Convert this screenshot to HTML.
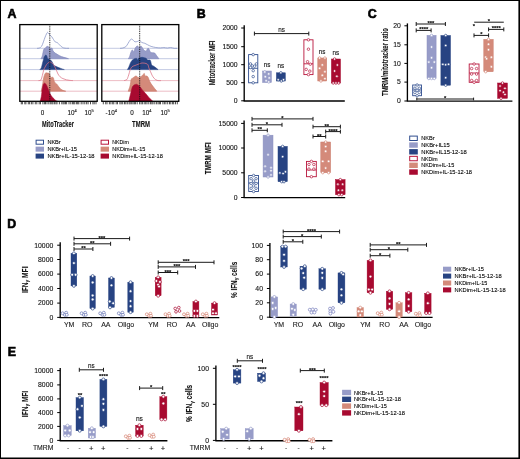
<!DOCTYPE html><html><head><meta charset="utf-8"><style>html,body{margin:0;padding:0;background:#fff;width:520px;height:459px;overflow:hidden;}svg{display:block;will-change:transform;}text{font-family:"Liberation Sans", sans-serif;stroke:#000;stroke-width:0.1px;paint-order:stroke;}</style></head><body>
<svg width="520" height="459" viewBox="0 0 520 459">
<rect x="0" y="0" width="520" height="459" fill="#fff" stroke="none" stroke-width="1" />
<text x="7.6" y="18.2" font-size="12.4" text-anchor="start" fill="#000" font-weight="bold" style="stroke-width:0.6px">A</text>
<text x="196.7" y="18.2" font-size="12.4" text-anchor="start" fill="#000" font-weight="bold" style="stroke-width:0.6px">B</text>
<text x="367.7" y="18.4" font-size="12.4" text-anchor="start" fill="#000" font-weight="bold" style="stroke-width:0.6px">C</text>
<text x="7.3" y="228.4" font-size="12.4" text-anchor="start" fill="#000" font-weight="bold" style="stroke-width:0.6px">D</text>
<text x="7.8" y="356.2" font-size="12.4" text-anchor="start" fill="#000" font-weight="bold" style="stroke-width:0.6px">E</text>
<rect x="19.8" y="24.6" width="77.4" height="76.69999999999999" fill="#fff" stroke="none" stroke-width="1" />
<line x1="19.8" y1="48.3" x2="97.2" y2="48.3" stroke="#bcc4e0" stroke-width="0.9" />
<line x1="19.8" y1="58.7" x2="97.2" y2="58.7" stroke="#bcc4e0" stroke-width="0.9" />
<line x1="19.8" y1="69.6" x2="97.2" y2="69.6" stroke="#bcc4e0" stroke-width="0.9" />
<line x1="19.8" y1="80.6" x2="97.2" y2="80.6" stroke="#ebb6be" stroke-width="0.9" />
<line x1="19.8" y1="91.2" x2="97.2" y2="91.2" stroke="#ebb6be" stroke-width="0.9" />
<path d="M37.00,48.30 C37.37,48.27 38.43,48.43 39.20,48.10 C39.97,47.77 40.90,47.33 41.60,46.30 C42.30,45.27 42.82,43.43 43.40,41.90 C43.98,40.37 44.58,38.43 45.10,37.10 C45.62,35.77 46.08,34.70 46.50,33.90 C46.92,33.10 47.25,32.35 47.60,32.30 C47.95,32.25 48.20,33.15 48.60,33.60 C49.00,34.05 49.48,34.48 50.00,35.00 C50.52,35.52 51.12,35.95 51.70,36.70 C52.28,37.45 52.92,38.63 53.50,39.50 C54.08,40.37 54.57,41.38 55.20,41.90 C55.83,42.42 56.65,42.18 57.30,42.60 C57.95,43.02 58.45,43.75 59.10,44.40 C59.75,45.05 60.45,45.92 61.20,46.50 C61.95,47.08 62.73,47.60 63.60,47.90 C64.47,48.20 65.50,48.23 66.40,48.30 C67.30,48.37 68.57,48.30 69.00,48.30" fill="none" stroke="#8593c4" stroke-width="0.75" stroke-linejoin="round"/>
<path d="M40.90,58.70 C41.13,58.23 41.83,57.42 42.30,55.90 C42.77,54.38 43.23,50.88 43.70,49.60 C44.17,48.32 44.57,48.72 45.10,48.20 C45.63,47.68 46.38,46.78 46.90,46.50 C47.42,46.22 47.80,46.33 48.20,46.50 C48.60,46.67 48.95,47.15 49.30,47.50 C49.65,47.85 49.83,48.48 50.30,48.60 C50.77,48.72 51.63,47.80 52.10,48.20 C52.57,48.60 52.58,50.18 53.10,51.00 C53.62,51.82 54.38,52.47 55.20,53.10 C56.02,53.73 56.95,54.22 58.00,54.80 C59.05,55.38 60.33,56.13 61.50,56.60 C62.67,57.07 63.83,57.25 65.00,57.60 C66.17,57.95 67.92,58.52 68.50,58.70 Z" fill="#979cc8" stroke="#7d85bb" stroke-width="0.6" stroke-linejoin="round"/>
<path d="M39.90,69.60 C40.13,69.28 40.90,68.65 41.30,67.70 C41.70,66.75 41.95,65.23 42.30,63.90 C42.65,62.57 43.05,60.93 43.40,59.70 C43.75,58.47 44.00,57.27 44.40,56.50 C44.80,55.73 45.38,55.15 45.80,55.10 C46.22,55.05 46.60,55.62 46.90,56.20 C47.20,56.78 47.32,58.13 47.60,58.60 C47.88,59.07 48.20,58.82 48.60,59.00 C49.00,59.18 49.53,59.42 50.00,59.70 C50.47,59.98 50.93,60.12 51.40,60.70 C51.87,61.28 52.33,62.38 52.80,63.20 C53.27,64.02 53.68,65.08 54.20,65.60 C54.72,66.12 55.27,66.02 55.90,66.30 C56.53,66.58 57.18,66.95 58.00,67.30 C58.82,67.65 59.75,68.02 60.80,68.40 C61.85,68.78 63.72,69.40 64.30,69.60 Z" fill="#274382" stroke="#274382" stroke-width="0.5" stroke-linejoin="round"/>
<path d="M38.50,80.60 C38.90,80.48 40.27,80.72 40.90,79.90 C41.53,79.08 41.83,77.33 42.30,75.70 C42.77,74.07 43.23,71.55 43.70,70.10 C44.17,68.65 44.63,67.92 45.10,67.00 C45.57,66.08 45.98,65.30 46.50,64.60 C47.02,63.90 47.62,63.22 48.20,62.80 C48.78,62.38 49.42,62.10 50.00,62.10 C50.58,62.10 51.12,62.38 51.70,62.80 C52.28,63.22 52.92,63.78 53.50,64.60 C54.08,65.42 54.68,66.67 55.20,67.70 C55.72,68.73 56.13,69.75 56.60,70.80 C57.07,71.85 57.42,73.00 58.00,74.00 C58.58,75.00 59.28,76.03 60.10,76.80 C60.92,77.57 61.85,78.10 62.90,78.60 C63.95,79.10 65.23,79.50 66.40,79.80 C67.57,80.10 68.80,80.27 69.90,80.40 C71.00,80.53 72.48,80.57 73.00,80.60" fill="none" stroke="#dc7386" stroke-width="0.75" stroke-linejoin="round"/>
<path d="M41.30,91.20 C41.53,89.98 42.30,86.15 42.70,83.90 C43.10,81.65 43.35,79.32 43.70,77.70 C44.05,76.08 44.45,75.00 44.80,74.20 C45.15,73.40 45.40,73.08 45.80,72.90 C46.20,72.72 46.73,73.07 47.20,73.10 C47.67,73.13 48.13,72.75 48.60,73.10 C49.07,73.45 49.65,74.38 50.00,75.20 C50.35,76.02 50.42,77.65 50.70,78.00 C50.98,78.35 51.27,77.35 51.70,77.30 C52.13,77.25 52.88,77.05 53.30,77.70 C53.72,78.35 53.88,80.33 54.20,81.20 C54.52,82.07 54.80,82.45 55.20,82.90 C55.60,83.35 56.02,83.27 56.60,83.90 C57.18,84.53 58.00,85.82 58.70,86.70 C59.40,87.58 59.98,88.55 60.80,89.20 C61.62,89.85 62.78,90.27 63.60,90.60 C64.42,90.93 65.35,91.10 65.70,91.20 Z" fill="#d48a7a" stroke="#c87767" stroke-width="0.6" stroke-linejoin="round"/>
<path d="M40.20,101.20 C40.38,100.42 40.95,98.57 41.30,96.50 C41.65,94.43 41.95,90.85 42.30,88.80 C42.65,86.75 42.98,85.13 43.40,84.20 C43.82,83.27 44.33,83.13 44.80,83.20 C45.27,83.27 45.73,83.90 46.20,84.60 C46.67,85.30 47.13,86.35 47.60,87.40 C48.07,88.45 48.55,89.78 49.00,90.90 C49.45,92.02 49.78,93.12 50.30,94.10 C50.82,95.08 51.52,96.05 52.10,96.80 C52.68,97.55 53.17,97.95 53.80,98.60 C54.43,99.25 55.32,100.27 55.90,100.70 C56.48,101.13 57.07,101.12 57.30,101.20 Z" fill="#a80a30" stroke="#a80a30" stroke-width="0.5" stroke-linejoin="round"/>
<line x1="49.8" y1="25.8" x2="49.8" y2="101.3" stroke="#111" stroke-width="1.0" stroke-dasharray="0.9 0.9"/>
<rect x="19.8" y="24.6" width="77.4" height="76.69999999999999" fill="none" stroke="#000" stroke-width="1.3" />
<g stroke="#222" stroke-width="0.6">
<line x1="21.3" y1="101.89999999999999" x2="21.3" y2="104.3" stroke="#222" stroke-width="0.8" />
<line x1="22.4" y1="101.89999999999999" x2="22.4" y2="104.3" stroke="#222" stroke-width="0.8" />
<line x1="24.8" y1="101.89999999999999" x2="24.8" y2="104.3" stroke="#222" stroke-width="0.8" />
<line x1="25.9" y1="101.89999999999999" x2="25.9" y2="104.3" stroke="#222" stroke-width="0.8" />
<line x1="28.3" y1="101.89999999999999" x2="28.3" y2="104.3" stroke="#222" stroke-width="0.8" />
<line x1="29.6" y1="101.89999999999999" x2="29.6" y2="104.3" stroke="#222" stroke-width="0.8" />
<line x1="31.4" y1="101.89999999999999" x2="31.4" y2="104.3" stroke="#222" stroke-width="0.8" />
<line x1="32.9" y1="101.89999999999999" x2="32.9" y2="104.3" stroke="#222" stroke-width="0.8" />
<line x1="35.3" y1="101.89999999999999" x2="35.3" y2="104.3" stroke="#222" stroke-width="0.8" />
<line x1="36.8" y1="101.89999999999999" x2="36.8" y2="104.3" stroke="#222" stroke-width="0.8" />
<line x1="39.2" y1="101.89999999999999" x2="39.2" y2="104.3" stroke="#222" stroke-width="0.8" />
<line x1="40.5" y1="101.89999999999999" x2="40.5" y2="104.3" stroke="#222" stroke-width="0.8" />
<line x1="42.9" y1="101.89999999999999" x2="42.9" y2="104.3" stroke="#222" stroke-width="0.8" />
<line x1="44.4" y1="101.89999999999999" x2="44.4" y2="104.3" stroke="#222" stroke-width="0.8" />
<line x1="45.5" y1="101.89999999999999" x2="45.5" y2="104.3" stroke="#222" stroke-width="0.8" />
<line x1="47.0" y1="101.89999999999999" x2="47.0" y2="104.3" stroke="#222" stroke-width="0.8" />
<line x1="48.8" y1="101.89999999999999" x2="48.8" y2="104.3" stroke="#222" stroke-width="0.8" />
<line x1="50.3" y1="101.89999999999999" x2="50.3" y2="104.3" stroke="#222" stroke-width="0.8" />
<line x1="51.8" y1="101.89999999999999" x2="51.8" y2="104.3" stroke="#222" stroke-width="0.8" />
<line x1="52.9" y1="101.89999999999999" x2="52.9" y2="104.3" stroke="#222" stroke-width="0.8" />
<line x1="54.4" y1="101.89999999999999" x2="54.4" y2="104.3" stroke="#222" stroke-width="0.8" />
<line x1="55.9" y1="101.89999999999999" x2="55.9" y2="104.3" stroke="#222" stroke-width="0.8" />
<line x1="57.0" y1="101.89999999999999" x2="57.0" y2="104.3" stroke="#222" stroke-width="0.8" />
<line x1="59.4" y1="101.89999999999999" x2="59.4" y2="104.3" stroke="#222" stroke-width="0.8" />
<line x1="61.8" y1="101.89999999999999" x2="61.8" y2="104.3" stroke="#222" stroke-width="0.8" />
<line x1="63.1" y1="101.89999999999999" x2="63.1" y2="104.3" stroke="#222" stroke-width="0.8" />
<line x1="64.2" y1="101.89999999999999" x2="64.2" y2="104.3" stroke="#222" stroke-width="0.8" />
<line x1="65.5" y1="101.89999999999999" x2="65.5" y2="104.3" stroke="#222" stroke-width="0.8" />
<line x1="66.6" y1="101.89999999999999" x2="66.6" y2="104.3" stroke="#222" stroke-width="0.8" />
<line x1="69.0" y1="101.89999999999999" x2="69.0" y2="104.3" stroke="#222" stroke-width="0.8" />
<line x1="70.8" y1="101.89999999999999" x2="70.8" y2="104.3" stroke="#222" stroke-width="0.8" />
<line x1="72.6" y1="101.89999999999999" x2="72.6" y2="104.3" stroke="#222" stroke-width="0.8" />
<line x1="73.7" y1="101.89999999999999" x2="73.7" y2="104.3" stroke="#222" stroke-width="0.8" />
<line x1="74.8" y1="101.89999999999999" x2="74.8" y2="104.3" stroke="#222" stroke-width="0.8" />
<line x1="76.6" y1="101.89999999999999" x2="76.6" y2="104.3" stroke="#222" stroke-width="0.8" />
<line x1="77.7" y1="101.89999999999999" x2="77.7" y2="104.3" stroke="#222" stroke-width="0.8" />
<line x1="78.8" y1="101.89999999999999" x2="78.8" y2="104.3" stroke="#222" stroke-width="0.8" />
<line x1="81.2" y1="101.89999999999999" x2="81.2" y2="104.3" stroke="#222" stroke-width="0.8" />
<line x1="83.0" y1="101.89999999999999" x2="83.0" y2="104.3" stroke="#222" stroke-width="0.8" />
<line x1="84.8" y1="101.89999999999999" x2="84.8" y2="104.3" stroke="#222" stroke-width="0.8" />
<line x1="86.6" y1="101.89999999999999" x2="86.6" y2="104.3" stroke="#222" stroke-width="0.8" />
<line x1="88.1" y1="101.89999999999999" x2="88.1" y2="104.3" stroke="#222" stroke-width="0.8" />
<line x1="90.5" y1="101.89999999999999" x2="90.5" y2="104.3" stroke="#222" stroke-width="0.8" />
<line x1="92.9" y1="101.89999999999999" x2="92.9" y2="104.3" stroke="#222" stroke-width="0.8" />
<line x1="94.2" y1="101.89999999999999" x2="94.2" y2="104.3" stroke="#222" stroke-width="0.8" />
<line x1="96.0" y1="101.89999999999999" x2="96.0" y2="104.3" stroke="#222" stroke-width="0.8" />
</g>
<rect x="101.8" y="24.6" width="77.00000000000001" height="76.69999999999999" fill="#fff" stroke="none" stroke-width="1" />
<line x1="101.8" y1="48.3" x2="178.8" y2="48.3" stroke="#bcc4e0" stroke-width="0.9" />
<line x1="101.8" y1="58.7" x2="178.8" y2="58.7" stroke="#bcc4e0" stroke-width="0.9" />
<line x1="101.8" y1="69.6" x2="178.8" y2="69.6" stroke="#bcc4e0" stroke-width="0.9" />
<line x1="101.8" y1="80.6" x2="178.8" y2="80.6" stroke="#ebb6be" stroke-width="0.9" />
<line x1="101.8" y1="91.2" x2="178.8" y2="91.2" stroke="#ebb6be" stroke-width="0.9" />
<path d="M120.00,48.30 C120.38,48.27 121.33,48.37 122.30,48.10 C123.27,47.83 124.83,47.50 125.80,46.70 C126.77,45.90 127.38,44.40 128.10,43.30 C128.82,42.20 129.48,40.82 130.10,40.10 C130.72,39.38 131.27,38.95 131.80,39.00 C132.33,39.05 132.77,39.93 133.30,40.40 C133.83,40.87 134.33,41.62 135.00,41.80 C135.67,41.98 136.53,41.70 137.30,41.50 C138.07,41.30 138.83,40.43 139.60,40.60 C140.37,40.77 141.03,42.05 141.90,42.50 C142.77,42.95 143.83,42.92 144.80,43.30 C145.77,43.68 146.65,44.28 147.70,44.80 C148.75,45.32 149.75,45.95 151.10,46.40 C152.45,46.85 154.25,47.25 155.80,47.50 C157.35,47.75 159.07,47.90 160.40,47.90 C161.73,47.90 162.65,47.48 163.80,47.50 C164.95,47.52 166.15,48.00 167.30,48.00 C168.45,48.00 169.55,47.45 170.70,47.50 C171.85,47.55 173.15,48.17 174.20,48.30 C175.25,48.43 176.53,48.30 177.00,48.30" fill="none" stroke="#8593c4" stroke-width="0.75" stroke-linejoin="round"/>
<path d="M128.20,58.70 C128.42,58.42 129.07,58.03 129.50,57.00 C129.93,55.97 130.33,53.68 130.80,52.50 C131.27,51.32 131.80,50.03 132.30,49.90 C132.80,49.77 133.35,51.93 133.80,51.70 C134.25,51.47 134.63,49.30 135.00,48.50 C135.37,47.70 135.55,47.32 136.00,46.90 C136.45,46.48 137.20,45.92 137.70,46.00 C138.20,46.08 138.62,47.30 139.00,47.40 C139.38,47.50 139.63,46.80 140.00,46.60 C140.37,46.40 140.78,45.97 141.20,46.20 C141.62,46.43 142.07,47.37 142.50,48.00 C142.93,48.63 143.22,49.47 143.80,50.00 C144.38,50.53 145.47,51.28 146.00,51.20 C146.53,51.12 146.65,50.00 147.00,49.50 C147.35,49.00 147.73,48.20 148.10,48.20 C148.47,48.20 148.83,48.85 149.20,49.50 C149.57,50.15 149.83,51.55 150.30,52.10 C150.77,52.65 151.28,52.65 152.00,52.80 C152.72,52.95 153.85,52.55 154.60,53.00 C155.35,53.45 155.78,54.55 156.50,55.50 C157.22,56.45 158.50,58.17 158.90,58.70 Z" fill="#979cc8" stroke="#7d85bb" stroke-width="0.6" stroke-linejoin="round"/>
<path d="M127.40,69.60 C127.67,69.08 128.50,67.62 129.00,66.50 C129.50,65.38 129.88,63.93 130.40,62.90 C130.92,61.87 131.58,60.90 132.10,60.30 C132.62,59.70 133.00,59.58 133.50,59.30 C134.00,59.02 134.62,58.78 135.10,58.60 C135.58,58.42 136.03,58.05 136.40,58.20 C136.77,58.35 136.93,59.50 137.30,59.50 C137.67,59.50 138.07,58.52 138.60,58.20 C139.13,57.88 139.85,57.75 140.50,57.60 C141.15,57.45 141.83,57.27 142.50,57.30 C143.17,57.33 143.92,57.65 144.50,57.80 C145.08,57.95 145.47,57.85 146.00,58.20 C146.53,58.55 146.98,59.55 147.70,59.90 C148.42,60.25 149.65,59.50 150.30,60.30 C150.95,61.10 151.15,63.78 151.60,64.70 C152.05,65.62 152.50,65.45 153.00,65.80 C153.50,66.15 154.02,66.38 154.60,66.80 C155.18,67.22 155.92,67.83 156.50,68.30 C157.08,68.77 157.83,69.38 158.10,69.60 Z" fill="#274382" stroke="#274382" stroke-width="0.5" stroke-linejoin="round"/>
<path d="M124.20,80.60 C124.65,80.42 126.30,80.02 126.90,79.50 C127.50,78.98 127.50,78.25 127.80,77.50 C128.10,76.75 128.33,76.18 128.70,75.00 C129.07,73.82 129.58,71.60 130.00,70.40 C130.42,69.20 130.70,68.50 131.20,67.80 C131.70,67.10 132.37,66.58 133.00,66.20 C133.63,65.82 134.17,65.82 135.00,65.50 C135.83,65.18 136.83,64.72 138.00,64.30 C139.17,63.88 140.67,63.13 142.00,63.00 C143.33,62.87 145.00,63.20 146.00,63.50 C147.00,63.80 147.53,64.08 148.00,64.80 C148.47,65.52 148.42,66.73 148.80,67.80 C149.18,68.87 149.77,69.98 150.30,71.20 C150.83,72.42 151.35,73.90 152.00,75.10 C152.65,76.30 153.33,77.52 154.20,78.40 C155.07,79.28 156.07,80.03 157.20,80.40 C158.33,80.77 160.37,80.57 161.00,80.60" fill="none" stroke="#dc7386" stroke-width="0.75" stroke-linejoin="round"/>
<path d="M128.20,91.20 C128.50,90.33 129.50,87.95 130.00,86.00 C130.50,84.05 130.78,80.80 131.20,79.50 C131.62,78.20 131.98,78.63 132.50,78.20 C133.02,77.77 133.72,77.27 134.30,76.90 C134.88,76.53 135.50,76.00 136.00,76.00 C136.50,76.00 136.80,76.62 137.30,76.90 C137.80,77.18 138.35,77.78 139.00,77.70 C139.65,77.62 140.55,76.83 141.20,76.40 C141.85,75.97 142.40,75.60 142.90,75.10 C143.40,74.60 143.83,73.25 144.20,73.40 C144.57,73.55 144.67,75.57 145.10,76.00 C145.53,76.43 146.30,75.78 146.80,76.00 C147.30,76.22 147.60,76.37 148.10,77.30 C148.60,78.23 149.15,80.30 149.80,81.60 C150.45,82.90 151.20,83.95 152.00,85.10 C152.80,86.25 153.80,87.48 154.60,88.50 C155.40,89.52 156.43,90.75 156.80,91.20 Z" fill="#d48a7a" stroke="#c87767" stroke-width="0.6" stroke-linejoin="round"/>
<path d="M128.80,101.20 C129.03,100.22 129.78,97.03 130.20,95.30 C130.62,93.57 130.95,92.18 131.30,90.80 C131.65,89.42 131.90,87.92 132.30,87.00 C132.70,86.08 133.23,85.70 133.70,85.30 C134.17,84.90 134.63,84.78 135.10,84.60 C135.57,84.42 136.03,84.15 136.50,84.20 C136.97,84.25 137.38,84.55 137.90,84.90 C138.42,85.25 139.03,85.72 139.60,86.30 C140.17,86.88 140.73,87.65 141.30,88.40 C141.87,89.15 142.42,90.12 143.00,90.80 C143.58,91.48 144.15,91.80 144.80,92.50 C145.45,93.20 146.22,94.18 146.90,95.00 C147.58,95.82 148.22,96.65 148.90,97.40 C149.58,98.15 150.37,98.87 151.00,99.50 C151.63,100.13 152.42,100.92 152.70,101.20 Z" fill="#a80a30" stroke="#a80a30" stroke-width="0.5" stroke-linejoin="round"/>
<line x1="139.7" y1="25.8" x2="139.7" y2="101.3" stroke="#111" stroke-width="1.0" stroke-dasharray="0.9 0.9"/>
<rect x="101.8" y="24.6" width="77.00000000000001" height="76.69999999999999" fill="none" stroke="#000" stroke-width="1.3" />
<g stroke="#222" stroke-width="0.6">
<line x1="103.3" y1="101.89999999999999" x2="103.3" y2="104.3" stroke="#222" stroke-width="0.8" />
<line x1="105.7" y1="101.89999999999999" x2="105.7" y2="104.3" stroke="#222" stroke-width="0.8" />
<line x1="107.0" y1="101.89999999999999" x2="107.0" y2="104.3" stroke="#222" stroke-width="0.8" />
<line x1="109.4" y1="101.89999999999999" x2="109.4" y2="104.3" stroke="#222" stroke-width="0.8" />
<line x1="110.9" y1="101.89999999999999" x2="110.9" y2="104.3" stroke="#222" stroke-width="0.8" />
<line x1="112.7" y1="101.89999999999999" x2="112.7" y2="104.3" stroke="#222" stroke-width="0.8" />
<line x1="113.8" y1="101.89999999999999" x2="113.8" y2="104.3" stroke="#222" stroke-width="0.8" />
<line x1="116.2" y1="101.89999999999999" x2="116.2" y2="104.3" stroke="#222" stroke-width="0.8" />
<line x1="117.5" y1="101.89999999999999" x2="117.5" y2="104.3" stroke="#222" stroke-width="0.8" />
<line x1="119.9" y1="101.89999999999999" x2="119.9" y2="104.3" stroke="#222" stroke-width="0.8" />
<line x1="121.2" y1="101.89999999999999" x2="121.2" y2="104.3" stroke="#222" stroke-width="0.8" />
<line x1="122.7" y1="101.89999999999999" x2="122.7" y2="104.3" stroke="#222" stroke-width="0.8" />
<line x1="124.5" y1="101.89999999999999" x2="124.5" y2="104.3" stroke="#222" stroke-width="0.8" />
<line x1="125.8" y1="101.89999999999999" x2="125.8" y2="104.3" stroke="#222" stroke-width="0.8" />
<line x1="127.3" y1="101.89999999999999" x2="127.3" y2="104.3" stroke="#222" stroke-width="0.8" />
<line x1="129.1" y1="101.89999999999999" x2="129.1" y2="104.3" stroke="#222" stroke-width="0.8" />
<line x1="130.2" y1="101.89999999999999" x2="130.2" y2="104.3" stroke="#222" stroke-width="0.8" />
<line x1="131.7" y1="101.89999999999999" x2="131.7" y2="104.3" stroke="#222" stroke-width="0.8" />
<line x1="133.0" y1="101.89999999999999" x2="133.0" y2="104.3" stroke="#222" stroke-width="0.8" />
<line x1="134.3" y1="101.89999999999999" x2="134.3" y2="104.3" stroke="#222" stroke-width="0.8" />
<line x1="135.4" y1="101.89999999999999" x2="135.4" y2="104.3" stroke="#222" stroke-width="0.8" />
<line x1="137.2" y1="101.89999999999999" x2="137.2" y2="104.3" stroke="#222" stroke-width="0.8" />
<line x1="139.6" y1="101.89999999999999" x2="139.6" y2="104.3" stroke="#222" stroke-width="0.8" />
<line x1="141.1" y1="101.89999999999999" x2="141.1" y2="104.3" stroke="#222" stroke-width="0.8" />
<line x1="142.4" y1="101.89999999999999" x2="142.4" y2="104.3" stroke="#222" stroke-width="0.8" />
<line x1="144.2" y1="101.89999999999999" x2="144.2" y2="104.3" stroke="#222" stroke-width="0.8" />
<line x1="145.7" y1="101.89999999999999" x2="145.7" y2="104.3" stroke="#222" stroke-width="0.8" />
<line x1="147.0" y1="101.89999999999999" x2="147.0" y2="104.3" stroke="#222" stroke-width="0.8" />
<line x1="148.8" y1="101.89999999999999" x2="148.8" y2="104.3" stroke="#222" stroke-width="0.8" />
<line x1="150.6" y1="101.89999999999999" x2="150.6" y2="104.3" stroke="#222" stroke-width="0.8" />
<line x1="151.9" y1="101.89999999999999" x2="151.9" y2="104.3" stroke="#222" stroke-width="0.8" />
<line x1="153.0" y1="101.89999999999999" x2="153.0" y2="104.3" stroke="#222" stroke-width="0.8" />
<line x1="154.8" y1="101.89999999999999" x2="154.8" y2="104.3" stroke="#222" stroke-width="0.8" />
<line x1="156.6" y1="101.89999999999999" x2="156.6" y2="104.3" stroke="#222" stroke-width="0.8" />
<line x1="158.1" y1="101.89999999999999" x2="158.1" y2="104.3" stroke="#222" stroke-width="0.8" />
<line x1="159.4" y1="101.89999999999999" x2="159.4" y2="104.3" stroke="#222" stroke-width="0.8" />
<line x1="160.5" y1="101.89999999999999" x2="160.5" y2="104.3" stroke="#222" stroke-width="0.8" />
<line x1="162.9" y1="101.89999999999999" x2="162.9" y2="104.3" stroke="#222" stroke-width="0.8" />
<line x1="164.4" y1="101.89999999999999" x2="164.4" y2="104.3" stroke="#222" stroke-width="0.8" />
<line x1="165.9" y1="101.89999999999999" x2="165.9" y2="104.3" stroke="#222" stroke-width="0.8" />
<line x1="167.7" y1="101.89999999999999" x2="167.7" y2="104.3" stroke="#222" stroke-width="0.8" />
<line x1="169.5" y1="101.89999999999999" x2="169.5" y2="104.3" stroke="#222" stroke-width="0.8" />
<line x1="170.8" y1="101.89999999999999" x2="170.8" y2="104.3" stroke="#222" stroke-width="0.8" />
<line x1="172.6" y1="101.89999999999999" x2="172.6" y2="104.3" stroke="#222" stroke-width="0.8" />
<line x1="173.7" y1="101.89999999999999" x2="173.7" y2="104.3" stroke="#222" stroke-width="0.8" />
<line x1="175.5" y1="101.89999999999999" x2="175.5" y2="104.3" stroke="#222" stroke-width="0.8" />
<line x1="177.3" y1="101.89999999999999" x2="177.3" y2="104.3" stroke="#222" stroke-width="0.8" />
</g>
<text x="42.5" y="114.6" font-size="6.3" text-anchor="middle" fill="#111" >0</text>
<text x="67.5" y="114.6" font-size="6.3" text-anchor="start" fill="#111" >10<tspan font-size="4" dy="-2.4">4</tspan></text>
<text x="84.5" y="114.6" font-size="6.3" text-anchor="start" fill="#111" >10<tspan font-size="4" dy="-2.4">5</tspan></text>
<text x="105.6" y="114.6" font-size="6.3" text-anchor="start" fill="#111" >-10<tspan font-size="4" dy="-2.4">4</tspan></text>
<text x="131.9" y="114.6" font-size="6.3" text-anchor="middle" fill="#111" >0</text>
<text x="142.2" y="114.6" font-size="6.3" text-anchor="start" fill="#111" >10<tspan font-size="4" dy="-2.4">4</tspan></text>
<text x="160.5" y="114.6" font-size="6.3" text-anchor="start" fill="#111" >10<tspan font-size="4" dy="-2.4">5</tspan></text>
<text x="42.0" y="127.0" font-size="8.2" text-anchor="start" fill="#111" font-weight="bold" textLength="31.9" lengthAdjust="spacingAndGlyphs" >MitoTracker</text>
<text x="132.1" y="127.0" font-size="8.2" text-anchor="start" fill="#111" font-weight="bold" textLength="17.9" lengthAdjust="spacingAndGlyphs" >TMRM</text>
<rect x="36.1" y="140.2" width="7.4" height="4.0" fill="#fff" stroke="#2f4d8e" stroke-width="1.0" />
<text x="47.4" y="144.32399999999998" font-size="5.9" text-anchor="start" fill="#000" textLength="13.3" lengthAdjust="spacingAndGlyphs" >NKBr</text>
<rect x="35.6" y="146.64999999999998" width="8.4" height="5.0" fill="#979cc8" stroke="none" stroke-width="1" />
<text x="47.4" y="151.27399999999997" font-size="5.9" text-anchor="start" fill="#000" textLength="29.5" lengthAdjust="spacingAndGlyphs" >NKBr+IL-15</text>
<rect x="35.6" y="153.6" width="8.4" height="5.0" fill="#274382" stroke="none" stroke-width="1" />
<text x="47.4" y="158.224" font-size="5.9" text-anchor="start" fill="#000" textLength="47.2" lengthAdjust="spacingAndGlyphs" >NKBr+IL-15-12-18</text>
<rect x="101.1" y="140.2" width="7.4" height="4.0" fill="#fff" stroke="#b8163c" stroke-width="1.0" />
<text x="112.3" y="144.32399999999998" font-size="5.9" text-anchor="start" fill="#000" textLength="16.5" lengthAdjust="spacingAndGlyphs" >NKDim</text>
<rect x="100.6" y="146.64999999999998" width="8.4" height="5.0" fill="#d48a7a" stroke="none" stroke-width="1" />
<text x="112.3" y="151.27399999999997" font-size="5.9" text-anchor="start" fill="#000" textLength="33.0" lengthAdjust="spacingAndGlyphs" >NKDim+IL-15</text>
<rect x="100.6" y="153.6" width="8.4" height="5.0" fill="#a80a30" stroke="none" stroke-width="1" />
<text x="112.3" y="158.224" font-size="5.9" text-anchor="start" fill="#000" textLength="50.5" lengthAdjust="spacingAndGlyphs" >NKDim+IL-15-12-18</text>
<line x1="244.2" y1="25.2" x2="244.2" y2="101.0" stroke="#000" stroke-width="1.35" />
<line x1="241.2" y1="28" x2="244.2" y2="28" stroke="#000" stroke-width="1.0" />
<text x="237.7" y="30.376" font-size="6.6" text-anchor="end" fill="#111" textLength="15.28" lengthAdjust="spacingAndGlyphs" >2000</text>
<line x1="241.2" y1="46.7" x2="244.2" y2="46.7" stroke="#000" stroke-width="1.0" />
<text x="237.7" y="49.076" font-size="6.6" text-anchor="end" fill="#111" textLength="15.28" lengthAdjust="spacingAndGlyphs" >1500</text>
<line x1="241.2" y1="64.7" x2="244.2" y2="64.7" stroke="#000" stroke-width="1.0" />
<text x="237.7" y="67.07600000000001" font-size="6.6" text-anchor="end" fill="#111" textLength="15.28" lengthAdjust="spacingAndGlyphs" >1000</text>
<line x1="241.2" y1="82.7" x2="244.2" y2="82.7" stroke="#000" stroke-width="1.0" />
<text x="237.7" y="85.07600000000001" font-size="6.6" text-anchor="end" fill="#111" textLength="11.46" lengthAdjust="spacingAndGlyphs" >500</text>
<line x1="241.2" y1="100.8" x2="244.2" y2="100.8" stroke="#000" stroke-width="1.0" />
<text x="237.7" y="103.176" font-size="6.6" text-anchor="end" fill="#111" textLength="3.82" lengthAdjust="spacingAndGlyphs" >0</text>
<line x1="243.6" y1="101.0" x2="344.8" y2="101.0" stroke="#000" stroke-width="1.4" />
<text x="215.2" y="62.9" font-size="8.2" text-anchor="middle" fill="#111" font-weight="bold" textLength="44.9" lengthAdjust="spacingAndGlyphs" transform="rotate(-90 215.2 62.9)" >Mitotracker MFI</text>
<line x1="254.4" y1="33.6" x2="308.8" y2="33.6" stroke="#1a1a1a" stroke-width="1.0" />
<line x1="254.4" y1="31.6" x2="254.4" y2="35.6" stroke="#1a1a1a" stroke-width="1.0" />
<line x1="308.8" y1="31.6" x2="308.8" y2="35.6" stroke="#1a1a1a" stroke-width="1.0" />
<text x="281.6" y="31.8" font-size="6.3" text-anchor="middle" fill="#111" >ns</text>
<rect x="248.6" y="54.6" width="9.200000000000017" height="28.199999999999996" fill="#fff" stroke="#2f4d8e" stroke-width="0.9" />
<line x1="248.6" y1="68.3" x2="257.8" y2="68.3" stroke="#2f4d8e" stroke-width="0.9" />
<circle cx="253.2" cy="54.6" r="1.25" fill="#fff" stroke="#2f4d8e" stroke-width="0.7"/>
<circle cx="250.44" cy="63.906" r="1.25" fill="#fff" stroke="#2f4d8e" stroke-width="0.7"/>
<circle cx="256.42" cy="63.906" r="1.25" fill="#fff" stroke="#2f4d8e" stroke-width="0.7"/>
<circle cx="252.27999999999997" cy="65.88" r="1.25" fill="#fff" stroke="#2f4d8e" stroke-width="0.7"/>
<circle cx="254.57999999999998" cy="66.162" r="1.25" fill="#fff" stroke="#2f4d8e" stroke-width="0.7"/>
<circle cx="250.44" cy="67.572" r="1.25" fill="#fff" stroke="#2f4d8e" stroke-width="0.7"/>
<circle cx="253.2" cy="70.67399999999999" r="1.25" fill="#fff" stroke="#2f4d8e" stroke-width="0.7"/>
<circle cx="253.2" cy="76.596" r="1.25" fill="#fff" stroke="#2f4d8e" stroke-width="0.7"/>
<circle cx="253.2" cy="82.8" r="1.25" fill="#fff" stroke="#2f4d8e" stroke-width="0.7"/>
<rect x="262.6" y="71.0" width="8.799999999999955" height="11.5" fill="#979cc8" stroke="#8a90c0" stroke-width="0.5" />
<circle cx="264.8" cy="71.92" r="1.25" fill="#fff" stroke="#979cc8" stroke-width="0.7"/>
<circle cx="268.76" cy="73.875" r="1.25" fill="#fff" stroke="#979cc8" stroke-width="0.7"/>
<circle cx="265.24" cy="76.75" r="1.25" fill="#fff" stroke="#979cc8" stroke-width="0.7"/>
<circle cx="269.2" cy="77.9" r="1.25" fill="#fff" stroke="#979cc8" stroke-width="0.7"/>
<circle cx="266.12" cy="80.775" r="1.25" fill="#fff" stroke="#979cc8" stroke-width="0.7"/>
<circle cx="268.76" cy="81.925" r="1.25" fill="#fff" stroke="#979cc8" stroke-width="0.7"/>
<rect x="276.4" y="72.8" width="8.900000000000034" height="8.200000000000003" fill="#274382" stroke="#274382" stroke-width="0.5" />
<circle cx="280.85" cy="72.8" r="1.25" fill="#fff" stroke="#274382" stroke-width="0.7"/>
<circle cx="278.18" cy="79.77" r="1.25" fill="#fff" stroke="#274382" stroke-width="0.7"/>
<circle cx="281.295" cy="81.0" r="1.25" fill="#fff" stroke="#274382" stroke-width="0.7"/>
<circle cx="283.52000000000004" cy="79.77" r="1.25" fill="#fff" stroke="#274382" stroke-width="0.7"/>
<rect x="303.9" y="39.8" width="9.100000000000023" height="34.8" fill="#fff" stroke="#b8163c" stroke-width="0.9" />
<line x1="303.9" y1="63.8" x2="313.0" y2="63.8" stroke="#b8163c" stroke-width="0.9" />
<circle cx="308.45" cy="39.8" r="1.25" fill="#fff" stroke="#b8163c" stroke-width="0.7"/>
<circle cx="308.45" cy="49.196" r="1.25" fill="#fff" stroke="#b8163c" stroke-width="0.7"/>
<circle cx="307.53999999999996" cy="61.724" r="1.25" fill="#fff" stroke="#b8163c" stroke-width="0.7"/>
<circle cx="310.27" cy="64.16" r="1.25" fill="#fff" stroke="#b8163c" stroke-width="0.7"/>
<circle cx="306.17499999999995" cy="69.38" r="1.25" fill="#fff" stroke="#b8163c" stroke-width="0.7"/>
<circle cx="309.815" cy="71.11999999999999" r="1.25" fill="#fff" stroke="#b8163c" stroke-width="0.7"/>
<circle cx="308.45" cy="74.6" r="1.25" fill="#fff" stroke="#b8163c" stroke-width="0.7"/>
<rect x="317.8" y="58.0" width="8.899999999999977" height="23.0" fill="#d48a7a" stroke="#c97a6a" stroke-width="0.5" />
<circle cx="319.58" cy="58.0" r="1.25" fill="#fff" stroke="#d48a7a" stroke-width="0.7"/>
<circle cx="324.92" cy="58.0" r="1.25" fill="#fff" stroke="#d48a7a" stroke-width="0.7"/>
<circle cx="322.25" cy="64.9" r="1.25" fill="#fff" stroke="#d48a7a" stroke-width="0.7"/>
<circle cx="319.58" cy="68.35" r="1.25" fill="#fff" stroke="#d48a7a" stroke-width="0.7"/>
<circle cx="324.92" cy="71.8" r="1.25" fill="#fff" stroke="#d48a7a" stroke-width="0.7"/>
<circle cx="322.25" cy="75.25" r="1.25" fill="#fff" stroke="#d48a7a" stroke-width="0.7"/>
<circle cx="324.92" cy="78.7" r="1.25" fill="#fff" stroke="#d48a7a" stroke-width="0.7"/>
<circle cx="320.915" cy="81.0" r="1.25" fill="#fff" stroke="#d48a7a" stroke-width="0.7"/>
<rect x="331.4" y="59.0" width="9.100000000000023" height="24.0" fill="#a80a30" stroke="#a80a30" stroke-width="0.5" />
<circle cx="334.585" cy="59.0" r="1.25" fill="#fff" stroke="#a80a30" stroke-width="0.7"/>
<circle cx="337.315" cy="65.0" r="1.25" fill="#fff" stroke="#a80a30" stroke-width="0.7"/>
<circle cx="334.585" cy="71.0" r="1.25" fill="#fff" stroke="#a80a30" stroke-width="0.7"/>
<circle cx="336.86" cy="76.28" r="1.25" fill="#fff" stroke="#a80a30" stroke-width="0.7"/>
<circle cx="333.21999999999997" cy="83.0" r="1.25" fill="#fff" stroke="#a80a30" stroke-width="0.7"/>
<circle cx="335.95" cy="83.0" r="1.25" fill="#fff" stroke="#a80a30" stroke-width="0.7"/>
<circle cx="338.68" cy="83.0" r="1.25" fill="#fff" stroke="#a80a30" stroke-width="0.7"/>
<text x="267" y="67.3" font-size="6.3" text-anchor="middle" fill="#111" >ns</text>
<text x="280.8" y="68.3" font-size="6.3" text-anchor="middle" fill="#111" >ns</text>
<text x="322.2" y="54.0" font-size="6.3" text-anchor="middle" fill="#111" >ns</text>
<text x="335.8" y="55.2" font-size="6.3" text-anchor="middle" fill="#111" >ns</text>
<line x1="244.1" y1="120.5" x2="244.1" y2="197.6" stroke="#000" stroke-width="1.35" />
<line x1="241.1" y1="123.4" x2="244.1" y2="123.4" stroke="#000" stroke-width="1.0" />
<text x="237.6" y="125.77600000000001" font-size="6.6" text-anchor="end" fill="#111" textLength="19.1" lengthAdjust="spacingAndGlyphs" >15000</text>
<line x1="241.1" y1="148.0" x2="244.1" y2="148.0" stroke="#000" stroke-width="1.0" />
<text x="237.6" y="150.376" font-size="6.6" text-anchor="end" fill="#111" textLength="19.1" lengthAdjust="spacingAndGlyphs" >10000</text>
<line x1="241.1" y1="172.8" x2="244.1" y2="172.8" stroke="#000" stroke-width="1.0" />
<text x="237.6" y="175.17600000000002" font-size="6.6" text-anchor="end" fill="#111" textLength="15.28" lengthAdjust="spacingAndGlyphs" >5000</text>
<line x1="241.1" y1="197.5" x2="244.1" y2="197.5" stroke="#000" stroke-width="1.0" />
<text x="237.6" y="199.876" font-size="6.6" text-anchor="end" fill="#111" textLength="3.82" lengthAdjust="spacingAndGlyphs" >0</text>
<line x1="243.5" y1="197.6" x2="345.2" y2="197.6" stroke="#000" stroke-width="1.4" />
<text x="211.3" y="158.3" font-size="8.2" text-anchor="middle" fill="#111" font-weight="bold" textLength="31.8" lengthAdjust="spacingAndGlyphs" transform="rotate(-90 211.3 158.3)" >TMRM MFI</text>
<line x1="252.0" y1="118.9" x2="313.0" y2="118.9" stroke="#1a1a1a" stroke-width="1.0" />
<line x1="252.0" y1="116.9" x2="252.0" y2="120.9" stroke="#1a1a1a" stroke-width="1.0" />
<line x1="313.0" y1="116.9" x2="313.0" y2="120.9" stroke="#1a1a1a" stroke-width="1.0" />
<text x="282.5" y="119.9" font-size="5.8" text-anchor="middle" fill="#000" font-weight="bold" >*</text>
<line x1="252.0" y1="124.8" x2="282.0" y2="124.8" stroke="#1a1a1a" stroke-width="1.0" />
<line x1="252.0" y1="122.8" x2="252.0" y2="126.8" stroke="#1a1a1a" stroke-width="1.0" />
<line x1="282.0" y1="122.8" x2="282.0" y2="126.8" stroke="#1a1a1a" stroke-width="1.0" />
<text x="267.0" y="125.8" font-size="5.8" text-anchor="middle" fill="#000" font-weight="bold" >*</text>
<line x1="252.0" y1="130.3" x2="267.3" y2="130.3" stroke="#1a1a1a" stroke-width="1.0" />
<line x1="252.0" y1="128.3" x2="252.0" y2="132.3" stroke="#1a1a1a" stroke-width="1.0" />
<line x1="267.3" y1="128.3" x2="267.3" y2="132.3" stroke="#1a1a1a" stroke-width="1.0" />
<text x="259.65" y="131.3" font-size="5.8" text-anchor="middle" fill="#000" font-weight="bold" >**</text>
<line x1="313.0" y1="126.7" x2="340.4" y2="126.7" stroke="#1a1a1a" stroke-width="1.0" />
<line x1="313.0" y1="124.7" x2="313.0" y2="128.7" stroke="#1a1a1a" stroke-width="1.0" />
<line x1="340.4" y1="124.7" x2="340.4" y2="128.7" stroke="#1a1a1a" stroke-width="1.0" />
<text x="326.7" y="127.7" font-size="5.8" text-anchor="middle" fill="#000" font-weight="bold" >**</text>
<line x1="325.7" y1="131.6" x2="340.4" y2="131.6" stroke="#1a1a1a" stroke-width="1.0" />
<line x1="325.7" y1="129.6" x2="325.7" y2="133.6" stroke="#1a1a1a" stroke-width="1.0" />
<line x1="340.4" y1="129.6" x2="340.4" y2="133.6" stroke="#1a1a1a" stroke-width="1.0" />
<text x="333.04999999999995" y="132.6" font-size="5.8" text-anchor="middle" fill="#000" font-weight="bold" >****</text>
<line x1="313.0" y1="136.5" x2="325.7" y2="136.5" stroke="#1a1a1a" stroke-width="1.0" />
<line x1="313.0" y1="134.5" x2="313.0" y2="138.5" stroke="#1a1a1a" stroke-width="1.0" />
<line x1="325.7" y1="134.5" x2="325.7" y2="138.5" stroke="#1a1a1a" stroke-width="1.0" />
<text x="319.35" y="137.5" font-size="5.8" text-anchor="middle" fill="#000" font-weight="bold" >**</text>
<rect x="248.7" y="175.5" width="9.800000000000011" height="16.0" fill="#fff" stroke="#2f4d8e" stroke-width="0.9" />
<line x1="248.7" y1="183" x2="258.5" y2="183" stroke="#2f4d8e" stroke-width="0.9" />
<circle cx="253.6" cy="175.5" r="1.25" fill="#fff" stroke="#2f4d8e" stroke-width="0.7"/>
<circle cx="251.14999999999998" cy="178.7" r="1.25" fill="#fff" stroke="#2f4d8e" stroke-width="0.7"/>
<circle cx="256.05" cy="178.7" r="1.25" fill="#fff" stroke="#2f4d8e" stroke-width="0.7"/>
<circle cx="253.6" cy="181.1" r="1.25" fill="#fff" stroke="#2f4d8e" stroke-width="0.7"/>
<circle cx="251.14999999999998" cy="183.5" r="1.25" fill="#fff" stroke="#2f4d8e" stroke-width="0.7"/>
<circle cx="256.05" cy="183.5" r="1.25" fill="#fff" stroke="#2f4d8e" stroke-width="0.7"/>
<circle cx="253.6" cy="185.9" r="1.25" fill="#fff" stroke="#2f4d8e" stroke-width="0.7"/>
<circle cx="251.14999999999998" cy="188.3" r="1.25" fill="#fff" stroke="#2f4d8e" stroke-width="0.7"/>
<circle cx="256.05" cy="188.3" r="1.25" fill="#fff" stroke="#2f4d8e" stroke-width="0.7"/>
<circle cx="253.6" cy="191.5" r="1.25" fill="#fff" stroke="#2f4d8e" stroke-width="0.7"/>
<rect x="263.1" y="135.2" width="9.899999999999977" height="41.80000000000001" fill="#979cc8" stroke="#8a90c0" stroke-width="0.5" />
<circle cx="268.05" cy="135.2" r="1.25" fill="#fff" stroke="#979cc8" stroke-width="0.7"/>
<circle cx="268.05" cy="154.846" r="1.25" fill="#fff" stroke="#979cc8" stroke-width="0.7"/>
<circle cx="265.08000000000004" cy="166.132" r="1.25" fill="#fff" stroke="#979cc8" stroke-width="0.7"/>
<circle cx="271.02" cy="167.804" r="1.25" fill="#fff" stroke="#979cc8" stroke-width="0.7"/>
<circle cx="265.08000000000004" cy="171.148" r="1.25" fill="#fff" stroke="#979cc8" stroke-width="0.7"/>
<circle cx="271.02" cy="170.73" r="1.25" fill="#fff" stroke="#979cc8" stroke-width="0.7"/>
<circle cx="271.02" cy="174.91" r="1.25" fill="#fff" stroke="#979cc8" stroke-width="0.7"/>
<circle cx="268.05" cy="177.0" r="1.25" fill="#fff" stroke="#979cc8" stroke-width="0.7"/>
<rect x="278.0" y="146.4" width="9.300000000000011" height="35.29999999999998" fill="#274382" stroke="#274382" stroke-width="0.5" />
<circle cx="282.65" cy="146.4" r="1.25" fill="#fff" stroke="#274382" stroke-width="0.7"/>
<circle cx="282.65" cy="156.637" r="1.25" fill="#fff" stroke="#274382" stroke-width="0.7"/>
<circle cx="279.85999999999996" cy="172.875" r="1.25" fill="#fff" stroke="#274382" stroke-width="0.7"/>
<circle cx="283.11499999999995" cy="173.581" r="1.25" fill="#fff" stroke="#274382" stroke-width="0.7"/>
<circle cx="285.44" cy="171.816" r="1.25" fill="#fff" stroke="#274382" stroke-width="0.7"/>
<circle cx="281.71999999999997" cy="181.7" r="1.25" fill="#fff" stroke="#274382" stroke-width="0.7"/>
<circle cx="284.04499999999996" cy="181.7" r="1.25" fill="#fff" stroke="#274382" stroke-width="0.7"/>
<rect x="306.5" y="161.4" width="9.800000000000011" height="15.299999999999983" fill="#fff" stroke="#b8163c" stroke-width="0.9" />
<line x1="306.5" y1="170" x2="316.3" y2="170" stroke="#b8163c" stroke-width="0.9" />
<circle cx="311.4" cy="161.4" r="1.25" fill="#fff" stroke="#b8163c" stroke-width="0.7"/>
<circle cx="308.95" cy="164.46" r="1.25" fill="#fff" stroke="#b8163c" stroke-width="0.7"/>
<circle cx="313.84999999999997" cy="164.46" r="1.25" fill="#fff" stroke="#b8163c" stroke-width="0.7"/>
<circle cx="308.95" cy="169.05" r="1.25" fill="#fff" stroke="#b8163c" stroke-width="0.7"/>
<circle cx="313.84999999999997" cy="169.05" r="1.25" fill="#fff" stroke="#b8163c" stroke-width="0.7"/>
<circle cx="311.4" cy="176.7" r="1.25" fill="#fff" stroke="#b8163c" stroke-width="0.7"/>
<rect x="320.8" y="142.0" width="9.800000000000011" height="30.69999999999999" fill="#d48a7a" stroke="#c97a6a" stroke-width="0.5" />
<circle cx="325.70000000000005" cy="142.0" r="1.25" fill="#fff" stroke="#d48a7a" stroke-width="0.7"/>
<circle cx="325.70000000000005" cy="146.605" r="1.25" fill="#fff" stroke="#d48a7a" stroke-width="0.7"/>
<circle cx="325.70000000000005" cy="151.21" r="1.25" fill="#fff" stroke="#d48a7a" stroke-width="0.7"/>
<circle cx="322.76000000000005" cy="161.341" r="1.25" fill="#fff" stroke="#d48a7a" stroke-width="0.7"/>
<circle cx="328.64000000000004" cy="161.341" r="1.25" fill="#fff" stroke="#d48a7a" stroke-width="0.7"/>
<circle cx="325.70000000000005" cy="168.095" r="1.25" fill="#fff" stroke="#d48a7a" stroke-width="0.7"/>
<circle cx="322.76000000000005" cy="172.7" r="1.25" fill="#fff" stroke="#d48a7a" stroke-width="0.7"/>
<circle cx="328.64000000000004" cy="172.7" r="1.25" fill="#fff" stroke="#d48a7a" stroke-width="0.7"/>
<rect x="335.5" y="179.6" width="9.600000000000023" height="15.099999999999994" fill="#a80a30" stroke="#a80a30" stroke-width="0.5" />
<circle cx="340.3" cy="179.6" r="1.25" fill="#fff" stroke="#a80a30" stroke-width="0.7"/>
<circle cx="337.9" cy="184.13" r="1.25" fill="#fff" stroke="#a80a30" stroke-width="0.7"/>
<circle cx="342.70000000000005" cy="184.13" r="1.25" fill="#fff" stroke="#a80a30" stroke-width="0.7"/>
<circle cx="338.38" cy="190.17" r="1.25" fill="#fff" stroke="#a80a30" stroke-width="0.7"/>
<circle cx="342.22" cy="190.17" r="1.25" fill="#fff" stroke="#a80a30" stroke-width="0.7"/>
<circle cx="338.86" cy="194.7" r="1.25" fill="#fff" stroke="#a80a30" stroke-width="0.7"/>
<circle cx="341.74" cy="194.7" r="1.25" fill="#fff" stroke="#a80a30" stroke-width="0.7"/>
<line x1="407.4" y1="23.4" x2="407.4" y2="101.1" stroke="#000" stroke-width="1.35" />
<line x1="404.4" y1="25.8" x2="407.4" y2="25.8" stroke="#000" stroke-width="1.0" />
<text x="400.9" y="28.176000000000002" font-size="6.6" text-anchor="end" fill="#111" textLength="7.64" lengthAdjust="spacingAndGlyphs" >20</text>
<line x1="404.4" y1="44.8" x2="407.4" y2="44.8" stroke="#000" stroke-width="1.0" />
<text x="400.9" y="47.175999999999995" font-size="6.6" text-anchor="end" fill="#111" textLength="7.64" lengthAdjust="spacingAndGlyphs" >15</text>
<line x1="404.4" y1="63.4" x2="407.4" y2="63.4" stroke="#000" stroke-width="1.0" />
<text x="400.9" y="65.776" font-size="6.6" text-anchor="end" fill="#111" textLength="7.64" lengthAdjust="spacingAndGlyphs" >10</text>
<line x1="404.4" y1="82.1" x2="407.4" y2="82.1" stroke="#000" stroke-width="1.0" />
<text x="400.9" y="84.476" font-size="6.6" text-anchor="end" fill="#111" textLength="3.82" lengthAdjust="spacingAndGlyphs" >5</text>
<line x1="404.4" y1="101.0" x2="407.4" y2="101.0" stroke="#000" stroke-width="1.0" />
<text x="400.9" y="103.376" font-size="6.6" text-anchor="end" fill="#111" textLength="3.82" lengthAdjust="spacingAndGlyphs" >0</text>
<line x1="406.8" y1="101.1" x2="512.4" y2="101.1" stroke="#000" stroke-width="1.4" />
<text x="387.9" y="62.0" font-size="8.2" text-anchor="middle" fill="#111" font-weight="bold" textLength="67.9" lengthAdjust="spacingAndGlyphs" transform="rotate(-90 387.9 62.0)" >TMRM/mitotracker ratio</text>
<line x1="416.2" y1="24.0" x2="445.4" y2="24.0" stroke="#1a1a1a" stroke-width="1.0" />
<line x1="416.2" y1="22.0" x2="416.2" y2="26.0" stroke="#1a1a1a" stroke-width="1.0" />
<line x1="445.4" y1="22.0" x2="445.4" y2="26.0" stroke="#1a1a1a" stroke-width="1.0" />
<text x="430.79999999999995" y="25.0" font-size="5.8" text-anchor="middle" fill="#000" font-weight="bold" >***</text>
<line x1="416.2" y1="30.4" x2="431.1" y2="30.4" stroke="#1a1a1a" stroke-width="1.0" />
<line x1="416.2" y1="28.4" x2="416.2" y2="32.4" stroke="#1a1a1a" stroke-width="1.0" />
<line x1="431.1" y1="28.4" x2="431.1" y2="32.4" stroke="#1a1a1a" stroke-width="1.0" />
<text x="423.65" y="31.4" font-size="5.8" text-anchor="middle" fill="#000" font-weight="bold" >****</text>
<line x1="474.2" y1="22.2" x2="503.8" y2="22.2" stroke="#1a1a1a" stroke-width="1.0" />
<text x="489.0" y="23.2" font-size="5.8" text-anchor="middle" fill="#000" font-weight="bold" >*</text>
<line x1="488.6" y1="29.4" x2="503.8" y2="29.4" stroke="#1a1a1a" stroke-width="1.0" />
<line x1="488.6" y1="27.4" x2="488.6" y2="31.4" stroke="#1a1a1a" stroke-width="1.0" />
<line x1="503.8" y1="27.4" x2="503.8" y2="31.4" stroke="#1a1a1a" stroke-width="1.0" />
<text x="496.20000000000005" y="30.4" font-size="5.8" text-anchor="middle" fill="#000" font-weight="bold" >****</text>
<line x1="474.0" y1="35.4" x2="488.6" y2="35.4" stroke="#1a1a1a" stroke-width="1.0" />
<line x1="474.0" y1="33.4" x2="474.0" y2="37.4" stroke="#1a1a1a" stroke-width="1.0" />
<line x1="488.6" y1="33.4" x2="488.6" y2="37.4" stroke="#1a1a1a" stroke-width="1.0" />
<text x="481.3" y="36.4" font-size="5.8" text-anchor="middle" fill="#000" font-weight="bold" >*</text>
<text x="474.0" y="27.8" font-size="5.8" text-anchor="middle" fill="#000" font-weight="bold" >*</text>
<line x1="416.8" y1="99.0" x2="473.6" y2="99.0" stroke="#1a1a1a" stroke-width="1.0" />
<line x1="416.8" y1="97.6" x2="416.8" y2="100.4" stroke="#1a1a1a" stroke-width="1.0" />
<line x1="473.6" y1="97.6" x2="473.6" y2="100.4" stroke="#1a1a1a" stroke-width="1.0" />
<text x="445.20000000000005" y="100.0" font-size="5.8" text-anchor="middle" fill="#000" font-weight="bold" >*</text>
<rect x="412.7" y="85.0" width="8.800000000000011" height="10.700000000000003" fill="#fff" stroke="#2f4d8e" stroke-width="0.9" />
<line x1="412.7" y1="90" x2="421.5" y2="90" stroke="#2f4d8e" stroke-width="0.9" />
<circle cx="417.1" cy="85.0" r="1.25" fill="#fff" stroke="#2f4d8e" stroke-width="0.7"/>
<circle cx="414.90000000000003" cy="88.21000000000001" r="1.25" fill="#fff" stroke="#2f4d8e" stroke-width="0.7"/>
<circle cx="419.3" cy="88.21000000000001" r="1.25" fill="#fff" stroke="#2f4d8e" stroke-width="0.7"/>
<circle cx="417.1" cy="90.35" r="1.25" fill="#fff" stroke="#2f4d8e" stroke-width="0.7"/>
<circle cx="414.90000000000003" cy="92.49" r="1.25" fill="#fff" stroke="#2f4d8e" stroke-width="0.7"/>
<circle cx="419.3" cy="92.49" r="1.25" fill="#fff" stroke="#2f4d8e" stroke-width="0.7"/>
<circle cx="417.1" cy="95.7" r="1.25" fill="#fff" stroke="#2f4d8e" stroke-width="0.7"/>
<rect x="427.0" y="35.4" width="9.100000000000023" height="43.1" fill="#979cc8" stroke="#8a90c0" stroke-width="0.5" />
<circle cx="431.55" cy="35.4" r="1.25" fill="#fff" stroke="#979cc8" stroke-width="0.7"/>
<circle cx="431.55" cy="47.037" r="1.25" fill="#fff" stroke="#979cc8" stroke-width="0.7"/>
<circle cx="431.55" cy="57.812" r="1.25" fill="#fff" stroke="#979cc8" stroke-width="0.7"/>
<circle cx="428.82" cy="62.122" r="1.25" fill="#fff" stroke="#979cc8" stroke-width="0.7"/>
<circle cx="434.28000000000003" cy="62.122" r="1.25" fill="#fff" stroke="#979cc8" stroke-width="0.7"/>
<circle cx="431.55" cy="67.725" r="1.25" fill="#fff" stroke="#979cc8" stroke-width="0.7"/>
<circle cx="428.82" cy="78.5" r="1.25" fill="#fff" stroke="#979cc8" stroke-width="0.7"/>
<circle cx="431.55" cy="78.5" r="1.25" fill="#fff" stroke="#979cc8" stroke-width="0.7"/>
<circle cx="434.28000000000003" cy="78.5" r="1.25" fill="#fff" stroke="#979cc8" stroke-width="0.7"/>
<rect x="440.9" y="35.5" width="9.600000000000023" height="49.7" fill="#274382" stroke="#274382" stroke-width="0.5" />
<circle cx="445.7" cy="35.5" r="1.25" fill="#fff" stroke="#274382" stroke-width="0.7"/>
<circle cx="445.7" cy="45.44" r="1.25" fill="#fff" stroke="#274382" stroke-width="0.7"/>
<circle cx="442.82" cy="64.326" r="1.25" fill="#fff" stroke="#274382" stroke-width="0.7"/>
<circle cx="445.7" cy="64.82300000000001" r="1.25" fill="#fff" stroke="#274382" stroke-width="0.7"/>
<circle cx="448.58" cy="64.326" r="1.25" fill="#fff" stroke="#274382" stroke-width="0.7"/>
<circle cx="445.7" cy="77.745" r="1.25" fill="#fff" stroke="#274382" stroke-width="0.7"/>
<circle cx="445.7" cy="85.2" r="1.25" fill="#fff" stroke="#274382" stroke-width="0.7"/>
<rect x="469.2" y="64.0" width="9.800000000000011" height="18.299999999999997" fill="#fff" stroke="#b8163c" stroke-width="0.9" />
<line x1="469.2" y1="73" x2="479.0" y2="73" stroke="#b8163c" stroke-width="0.9" />
<circle cx="474.1" cy="64.0" r="1.25" fill="#fff" stroke="#b8163c" stroke-width="0.7"/>
<circle cx="471.65000000000003" cy="68.575" r="1.25" fill="#fff" stroke="#b8163c" stroke-width="0.7"/>
<circle cx="476.55" cy="68.575" r="1.25" fill="#fff" stroke="#b8163c" stroke-width="0.7"/>
<circle cx="471.65000000000003" cy="74.065" r="1.25" fill="#fff" stroke="#b8163c" stroke-width="0.7"/>
<circle cx="476.55" cy="74.065" r="1.25" fill="#fff" stroke="#b8163c" stroke-width="0.7"/>
<circle cx="471.65000000000003" cy="80.47" r="1.25" fill="#fff" stroke="#b8163c" stroke-width="0.7"/>
<circle cx="476.55" cy="80.47" r="1.25" fill="#fff" stroke="#b8163c" stroke-width="0.7"/>
<circle cx="474.1" cy="82.3" r="1.25" fill="#fff" stroke="#b8163c" stroke-width="0.7"/>
<rect x="483.8" y="39.4" width="9.399999999999977" height="32.300000000000004" fill="#d48a7a" stroke="#c97a6a" stroke-width="0.5" />
<circle cx="488.5" cy="39.4" r="1.25" fill="#fff" stroke="#d48a7a" stroke-width="0.7"/>
<circle cx="488.5" cy="44.245" r="1.25" fill="#fff" stroke="#d48a7a" stroke-width="0.7"/>
<circle cx="488.5" cy="49.736000000000004" r="1.25" fill="#fff" stroke="#d48a7a" stroke-width="0.7"/>
<circle cx="485.68" cy="57.165000000000006" r="1.25" fill="#fff" stroke="#d48a7a" stroke-width="0.7"/>
<circle cx="491.32" cy="57.165000000000006" r="1.25" fill="#fff" stroke="#d48a7a" stroke-width="0.7"/>
<circle cx="486.62" cy="58.78" r="1.25" fill="#fff" stroke="#d48a7a" stroke-width="0.7"/>
<circle cx="491.32" cy="66.855" r="1.25" fill="#fff" stroke="#d48a7a" stroke-width="0.7"/>
<circle cx="485.68" cy="71.7" r="1.25" fill="#fff" stroke="#d48a7a" stroke-width="0.7"/>
<rect x="497.6" y="83.0" width="9.799999999999955" height="15.299999999999997" fill="#a80a30" stroke="#a80a30" stroke-width="0.5" />
<circle cx="502.5" cy="83.0" r="1.25" fill="#fff" stroke="#a80a30" stroke-width="0.7"/>
<circle cx="500.05" cy="86.06" r="1.25" fill="#fff" stroke="#a80a30" stroke-width="0.7"/>
<circle cx="504.95" cy="88.355" r="1.25" fill="#fff" stroke="#a80a30" stroke-width="0.7"/>
<circle cx="500.05" cy="90.65" r="1.25" fill="#fff" stroke="#a80a30" stroke-width="0.7"/>
<circle cx="503.48" cy="92.17999999999999" r="1.25" fill="#fff" stroke="#a80a30" stroke-width="0.7"/>
<circle cx="504.95" cy="94.475" r="1.25" fill="#fff" stroke="#a80a30" stroke-width="0.7"/>
<circle cx="501.03000000000003" cy="98.3" r="1.25" fill="#fff" stroke="#a80a30" stroke-width="0.7"/>
<rect x="409.7" y="136.10000000000002" width="7.6" height="4.4" fill="#fff" stroke="#2f4d8e" stroke-width="1.0" />
<text x="421.2" y="140.424" font-size="5.9" text-anchor="start" fill="#000" textLength="13.3" lengthAdjust="spacingAndGlyphs" >NKBr</text>
<rect x="409.2" y="142.35000000000002" width="8.6" height="5.4" fill="#979cc8" stroke="none" stroke-width="1" />
<text x="421.2" y="147.174" font-size="5.9" text-anchor="start" fill="#000" textLength="28.5" lengthAdjust="spacingAndGlyphs" >NKBr+IL15</text>
<rect x="409.2" y="149.10000000000002" width="8.6" height="5.4" fill="#274382" stroke="none" stroke-width="1" />
<text x="421.2" y="153.924" font-size="5.9" text-anchor="start" fill="#000" textLength="45.6" lengthAdjust="spacingAndGlyphs" >NKBr+IL15-12-18</text>
<rect x="409.7" y="156.35000000000002" width="7.6" height="4.4" fill="#fff" stroke="#b8163c" stroke-width="1.0" />
<text x="421.2" y="160.674" font-size="5.9" text-anchor="start" fill="#000" textLength="16.5" lengthAdjust="spacingAndGlyphs" >NKDim</text>
<rect x="409.2" y="162.60000000000002" width="8.6" height="5.4" fill="#d48a7a" stroke="none" stroke-width="1" />
<text x="421.2" y="167.424" font-size="5.9" text-anchor="start" fill="#000" textLength="33.0" lengthAdjust="spacingAndGlyphs" >NKDim+IL-15</text>
<rect x="409.2" y="169.35000000000002" width="8.6" height="5.4" fill="#a80a30" stroke="none" stroke-width="1" />
<text x="421.2" y="174.174" font-size="5.9" text-anchor="start" fill="#000" textLength="50.8" lengthAdjust="spacingAndGlyphs" >NKDim+IL-15-12-18</text>
<line x1="60.2" y1="242.2" x2="60.2" y2="317.5" stroke="#000" stroke-width="1.35" />
<line x1="57.2" y1="245.2" x2="60.2" y2="245.2" stroke="#000" stroke-width="1.0" />
<text x="53.300000000000004" y="247.576" font-size="6.6" text-anchor="end" fill="#111" textLength="19.1" lengthAdjust="spacingAndGlyphs" >10000</text>
<line x1="57.2" y1="259.5" x2="60.2" y2="259.5" stroke="#000" stroke-width="1.0" />
<text x="53.300000000000004" y="261.876" font-size="6.6" text-anchor="end" fill="#111" textLength="15.28" lengthAdjust="spacingAndGlyphs" >8000</text>
<line x1="57.2" y1="274.1" x2="60.2" y2="274.1" stroke="#000" stroke-width="1.0" />
<text x="53.300000000000004" y="276.476" font-size="6.6" text-anchor="end" fill="#111" textLength="15.28" lengthAdjust="spacingAndGlyphs" >6000</text>
<line x1="57.2" y1="288.5" x2="60.2" y2="288.5" stroke="#000" stroke-width="1.0" />
<text x="53.300000000000004" y="290.876" font-size="6.6" text-anchor="end" fill="#111" textLength="15.28" lengthAdjust="spacingAndGlyphs" >4000</text>
<line x1="57.2" y1="303.1" x2="60.2" y2="303.1" stroke="#000" stroke-width="1.0" />
<text x="53.300000000000004" y="305.476" font-size="6.6" text-anchor="end" fill="#111" textLength="15.28" lengthAdjust="spacingAndGlyphs" >2000</text>
<line x1="57.2" y1="317.4" x2="60.2" y2="317.4" stroke="#000" stroke-width="1.0" />
<text x="53.300000000000004" y="319.77599999999995" font-size="6.6" text-anchor="end" fill="#111" textLength="3.82" lengthAdjust="spacingAndGlyphs" >0</text>
<line x1="59.6" y1="317.6" x2="219.3" y2="317.6" stroke="#000" stroke-width="1.4" />
<text x="28.0" y="279.8" font-size="8.2" text-anchor="middle" fill="#111" font-weight="bold" textLength="26.6" lengthAdjust="spacingAndGlyphs" transform="rotate(-90 28.0 279.8)" >IFN<tspan font-size="6" dy="1.2">γ</tspan><tspan dy="-1.2"> MFI</tspan></text>
<line x1="74.0" y1="238.6" x2="129.6" y2="238.6" stroke="#1a1a1a" stroke-width="1.0" />
<line x1="74.0" y1="236.6" x2="74.0" y2="240.6" stroke="#1a1a1a" stroke-width="1.0" />
<line x1="129.6" y1="236.6" x2="129.6" y2="240.6" stroke="#1a1a1a" stroke-width="1.0" />
<text x="101.8" y="239.6" font-size="5.8" text-anchor="middle" fill="#000" font-weight="bold" >***</text>
<line x1="74.0" y1="243.8" x2="110.6" y2="243.8" stroke="#1a1a1a" stroke-width="1.0" />
<line x1="74.0" y1="241.8" x2="74.0" y2="245.8" stroke="#1a1a1a" stroke-width="1.0" />
<line x1="110.6" y1="241.8" x2="110.6" y2="245.8" stroke="#1a1a1a" stroke-width="1.0" />
<text x="92.3" y="244.8" font-size="5.8" text-anchor="middle" fill="#000" font-weight="bold" >**</text>
<line x1="74.0" y1="249.0" x2="92.9" y2="249.0" stroke="#1a1a1a" stroke-width="1.0" />
<line x1="74.0" y1="247.0" x2="74.0" y2="251.0" stroke="#1a1a1a" stroke-width="1.0" />
<line x1="92.9" y1="247.0" x2="92.9" y2="251.0" stroke="#1a1a1a" stroke-width="1.0" />
<text x="83.45" y="250.0" font-size="5.8" text-anchor="middle" fill="#000" font-weight="bold" >**</text>
<rect x="71.0" y="253.3" width="5.799999999999997" height="32.599999999999966" fill="#274382" stroke="#274382" stroke-width="0.4" />
<circle cx="73.9" cy="253.3" r="1.45" fill="#fff" stroke="#274382" stroke-width="0.7"/>
<circle cx="73.9" cy="263.08" r="1.45" fill="#fff" stroke="#274382" stroke-width="0.7"/>
<circle cx="72.16000000000001" cy="274.816" r="1.45" fill="#fff" stroke="#274382" stroke-width="0.7"/>
<circle cx="75.64" cy="274.816" r="1.45" fill="#fff" stroke="#274382" stroke-width="0.7"/>
<circle cx="73.9" cy="285.9" r="1.45" fill="#fff" stroke="#274382" stroke-width="0.7"/>
<rect x="89.9" y="276.0" width="5.5" height="32.60000000000002" fill="#274382" stroke="#274382" stroke-width="0.4" />
<circle cx="92.65" cy="276.0" r="1.45" fill="#fff" stroke="#274382" stroke-width="0.7"/>
<circle cx="92.65" cy="282.52" r="1.45" fill="#fff" stroke="#274382" stroke-width="0.7"/>
<circle cx="92.65" cy="295.56" r="1.45" fill="#fff" stroke="#274382" stroke-width="0.7"/>
<circle cx="92.65" cy="299.47200000000004" r="1.45" fill="#fff" stroke="#274382" stroke-width="0.7"/>
<circle cx="92.65" cy="308.6" r="1.45" fill="#fff" stroke="#274382" stroke-width="0.7"/>
<rect x="108.5" y="278.0" width="5.900000000000006" height="29.399999999999977" fill="#274382" stroke="#274382" stroke-width="0.4" />
<circle cx="111.45" cy="278.0" r="1.45" fill="#fff" stroke="#274382" stroke-width="0.7"/>
<circle cx="111.45" cy="285.35" r="1.45" fill="#fff" stroke="#274382" stroke-width="0.7"/>
<circle cx="109.68" cy="301.52" r="1.45" fill="#fff" stroke="#274382" stroke-width="0.7"/>
<circle cx="113.22" cy="303.284" r="1.45" fill="#fff" stroke="#274382" stroke-width="0.7"/>
<circle cx="109.975" cy="307.4" r="1.45" fill="#fff" stroke="#274382" stroke-width="0.7"/>
<rect x="127.8" y="282.2" width="5.500000000000014" height="30.0" fill="#274382" stroke="#274382" stroke-width="0.4" />
<circle cx="130.55" cy="282.2" r="1.45" fill="#fff" stroke="#274382" stroke-width="0.7"/>
<circle cx="130.55" cy="291.2" r="1.45" fill="#fff" stroke="#274382" stroke-width="0.7"/>
<circle cx="130.55" cy="301.09999999999997" r="1.45" fill="#fff" stroke="#274382" stroke-width="0.7"/>
<circle cx="130.55" cy="306.2" r="1.45" fill="#fff" stroke="#274382" stroke-width="0.7"/>
<circle cx="130.55" cy="312.2" r="1.45" fill="#fff" stroke="#274382" stroke-width="0.7"/>
<circle cx="62.599999999999994" cy="313.3" r="1.45" fill="#fff" stroke="#6f7cb8" stroke-width="0.75"/>
<circle cx="66.19999999999999" cy="312.70000000000005" r="1.45" fill="#fff" stroke="#6f7cb8" stroke-width="0.75"/>
<circle cx="64.89999999999999" cy="314.90000000000003" r="1.45" fill="#fff" stroke="#6f7cb8" stroke-width="0.75"/>
<circle cx="66.8" cy="314.8" r="1.45" fill="#fff" stroke="#6f7cb8" stroke-width="0.75"/>
<circle cx="81.6" cy="313.3" r="1.45" fill="#fff" stroke="#6f7cb8" stroke-width="0.75"/>
<circle cx="85.19999999999999" cy="312.70000000000005" r="1.45" fill="#fff" stroke="#6f7cb8" stroke-width="0.75"/>
<circle cx="83.89999999999999" cy="314.90000000000003" r="1.45" fill="#fff" stroke="#6f7cb8" stroke-width="0.75"/>
<circle cx="85.8" cy="314.8" r="1.45" fill="#fff" stroke="#6f7cb8" stroke-width="0.75"/>
<circle cx="100.2" cy="313.3" r="1.45" fill="#fff" stroke="#6f7cb8" stroke-width="0.75"/>
<circle cx="103.8" cy="312.70000000000005" r="1.45" fill="#fff" stroke="#6f7cb8" stroke-width="0.75"/>
<circle cx="102.5" cy="314.90000000000003" r="1.45" fill="#fff" stroke="#6f7cb8" stroke-width="0.75"/>
<circle cx="104.4" cy="314.8" r="1.45" fill="#fff" stroke="#6f7cb8" stroke-width="0.75"/>
<circle cx="118.8" cy="313.3" r="1.45" fill="#fff" stroke="#6f7cb8" stroke-width="0.75"/>
<circle cx="122.39999999999999" cy="312.70000000000005" r="1.45" fill="#fff" stroke="#6f7cb8" stroke-width="0.75"/>
<circle cx="121.1" cy="314.90000000000003" r="1.45" fill="#fff" stroke="#6f7cb8" stroke-width="0.75"/>
<circle cx="123.0" cy="314.8" r="1.45" fill="#fff" stroke="#6f7cb8" stroke-width="0.75"/>
<line x1="158.2" y1="262.3" x2="214.0" y2="262.3" stroke="#1a1a1a" stroke-width="1.0" />
<line x1="158.2" y1="260.3" x2="158.2" y2="264.3" stroke="#1a1a1a" stroke-width="1.0" />
<line x1="214.0" y1="260.3" x2="214.0" y2="264.3" stroke="#1a1a1a" stroke-width="1.0" />
<text x="186.1" y="263.3" font-size="5.8" text-anchor="middle" fill="#000" font-weight="bold" >***</text>
<line x1="158.2" y1="266.9" x2="195.5" y2="266.9" stroke="#1a1a1a" stroke-width="1.0" />
<line x1="158.2" y1="264.9" x2="158.2" y2="268.9" stroke="#1a1a1a" stroke-width="1.0" />
<line x1="195.5" y1="264.9" x2="195.5" y2="268.9" stroke="#1a1a1a" stroke-width="1.0" />
<text x="176.85" y="267.9" font-size="5.8" text-anchor="middle" fill="#000" font-weight="bold" >***</text>
<line x1="158.2" y1="272.5" x2="177.7" y2="272.5" stroke="#1a1a1a" stroke-width="1.0" />
<line x1="158.2" y1="270.5" x2="158.2" y2="274.5" stroke="#1a1a1a" stroke-width="1.0" />
<line x1="177.7" y1="270.5" x2="177.7" y2="274.5" stroke="#1a1a1a" stroke-width="1.0" />
<text x="167.95" y="273.5" font-size="5.8" text-anchor="middle" fill="#000" font-weight="bold" >***</text>
<rect x="155.2" y="277.3" width="5.900000000000006" height="18.5" fill="#a80a30" stroke="#a80a30" stroke-width="0.4" />
<circle cx="158.14999999999998" cy="277.3" r="1.45" fill="#fff" stroke="#a80a30" stroke-width="0.7"/>
<circle cx="156.37999999999997" cy="281.0" r="1.45" fill="#fff" stroke="#a80a30" stroke-width="0.7"/>
<circle cx="159.92" cy="281.925" r="1.45" fill="#fff" stroke="#a80a30" stroke-width="0.7"/>
<circle cx="158.14999999999998" cy="284.7" r="1.45" fill="#fff" stroke="#a80a30" stroke-width="0.7"/>
<circle cx="159.03499999999997" cy="286.55" r="1.45" fill="#fff" stroke="#a80a30" stroke-width="0.7"/>
<circle cx="158.14999999999998" cy="295.8" r="1.45" fill="#fff" stroke="#a80a30" stroke-width="0.7"/>
<circle cx="175.2" cy="308.5" r="1.35" fill="#fff" stroke="#a80a30" stroke-width="0.7"/>
<circle cx="178.8" cy="307.6" r="1.35" fill="#fff" stroke="#a80a30" stroke-width="0.7"/>
<circle cx="176.0" cy="311.8" r="1.35" fill="#fff" stroke="#a80a30" stroke-width="0.7"/>
<circle cx="179.5" cy="311.0" r="1.35" fill="#fff" stroke="#a80a30" stroke-width="0.7"/>
<rect x="192.9" y="301.5" width="6.0" height="14.5" fill="#a80a30" stroke="#a80a30" stroke-width="0.4" />
<circle cx="195.9" cy="301.5" r="1.45" fill="#fff" stroke="#a80a30" stroke-width="0.7"/>
<circle cx="194.4" cy="310.925" r="1.45" fill="#fff" stroke="#a80a30" stroke-width="0.7"/>
<circle cx="197.4" cy="310.925" r="1.45" fill="#fff" stroke="#a80a30" stroke-width="0.7"/>
<circle cx="194.4" cy="316.0" r="1.45" fill="#fff" stroke="#a80a30" stroke-width="0.7"/>
<circle cx="197.4" cy="316.0" r="1.45" fill="#fff" stroke="#a80a30" stroke-width="0.7"/>
<rect x="211.5" y="303.1" width="6.0" height="11.899999999999977" fill="#a80a30" stroke="#a80a30" stroke-width="0.4" />
<circle cx="214.5" cy="303.1" r="1.45" fill="#fff" stroke="#a80a30" stroke-width="0.7"/>
<circle cx="213.0" cy="309.64500000000004" r="1.45" fill="#fff" stroke="#a80a30" stroke-width="0.7"/>
<circle cx="213.0" cy="313.21500000000003" r="1.45" fill="#fff" stroke="#a80a30" stroke-width="0.7"/>
<circle cx="216.0" cy="313.21500000000003" r="1.45" fill="#fff" stroke="#a80a30" stroke-width="0.7"/>
<circle cx="146.8" cy="314.3" r="1.45" fill="#fff" stroke="#d88a7a" stroke-width="0.75"/>
<circle cx="150.4" cy="313.70000000000005" r="1.45" fill="#fff" stroke="#d88a7a" stroke-width="0.75"/>
<circle cx="149.10000000000002" cy="315.90000000000003" r="1.45" fill="#fff" stroke="#d88a7a" stroke-width="0.75"/>
<circle cx="151.0" cy="315.8" r="1.45" fill="#fff" stroke="#d88a7a" stroke-width="0.75"/>
<circle cx="165.5" cy="314.3" r="1.45" fill="#fff" stroke="#d88a7a" stroke-width="0.75"/>
<circle cx="169.1" cy="313.70000000000005" r="1.45" fill="#fff" stroke="#d88a7a" stroke-width="0.75"/>
<circle cx="167.8" cy="315.90000000000003" r="1.45" fill="#fff" stroke="#d88a7a" stroke-width="0.75"/>
<circle cx="169.7" cy="315.8" r="1.45" fill="#fff" stroke="#d88a7a" stroke-width="0.75"/>
<circle cx="184.0" cy="314.3" r="1.45" fill="#fff" stroke="#d88a7a" stroke-width="0.75"/>
<circle cx="187.6" cy="313.70000000000005" r="1.45" fill="#fff" stroke="#d88a7a" stroke-width="0.75"/>
<circle cx="186.3" cy="315.90000000000003" r="1.45" fill="#fff" stroke="#d88a7a" stroke-width="0.75"/>
<circle cx="188.2" cy="315.8" r="1.45" fill="#fff" stroke="#d88a7a" stroke-width="0.75"/>
<circle cx="202.8" cy="314.3" r="1.45" fill="#fff" stroke="#d88a7a" stroke-width="0.75"/>
<circle cx="206.4" cy="313.70000000000005" r="1.45" fill="#fff" stroke="#d88a7a" stroke-width="0.75"/>
<circle cx="205.10000000000002" cy="315.90000000000003" r="1.45" fill="#fff" stroke="#d88a7a" stroke-width="0.75"/>
<circle cx="207.0" cy="315.8" r="1.45" fill="#fff" stroke="#d88a7a" stroke-width="0.75"/>
<text x="69.2" y="327.4" font-size="7.0" text-anchor="middle" fill="#1a1a1a" >YM</text>
<text x="87.2" y="327.4" font-size="7.0" text-anchor="middle" fill="#1a1a1a" >RO</text>
<text x="105.8" y="327.4" font-size="7.0" text-anchor="middle" fill="#1a1a1a" >AA</text>
<text x="126.0" y="327.4" font-size="7.0" text-anchor="middle" fill="#1a1a1a" >Oligo</text>
<text x="153.4" y="327.4" font-size="7.0" text-anchor="middle" fill="#1a1a1a" >YM</text>
<text x="172.0" y="327.4" font-size="7.0" text-anchor="middle" fill="#1a1a1a" >RO</text>
<text x="190.7" y="327.4" font-size="7.0" text-anchor="middle" fill="#1a1a1a" >AA</text>
<text x="210.2" y="327.4" font-size="7.0" text-anchor="middle" fill="#1a1a1a" >Oligo</text>
<line x1="269.9" y1="243.0" x2="269.9" y2="317.3" stroke="#000" stroke-width="1.35" />
<line x1="266.9" y1="245.4" x2="269.9" y2="245.4" stroke="#000" stroke-width="1.0" />
<text x="263.0" y="247.776" font-size="6.6" text-anchor="end" fill="#111" textLength="11.46" lengthAdjust="spacingAndGlyphs" >100</text>
<line x1="266.9" y1="259.7" x2="269.9" y2="259.7" stroke="#000" stroke-width="1.0" />
<text x="263.0" y="262.07599999999996" font-size="6.6" text-anchor="end" fill="#111" textLength="7.64" lengthAdjust="spacingAndGlyphs" >80</text>
<line x1="266.9" y1="274.1" x2="269.9" y2="274.1" stroke="#000" stroke-width="1.0" />
<text x="263.0" y="276.476" font-size="6.6" text-anchor="end" fill="#111" textLength="7.64" lengthAdjust="spacingAndGlyphs" >60</text>
<line x1="266.9" y1="288.5" x2="269.9" y2="288.5" stroke="#000" stroke-width="1.0" />
<text x="263.0" y="290.876" font-size="6.6" text-anchor="end" fill="#111" textLength="7.64" lengthAdjust="spacingAndGlyphs" >40</text>
<line x1="266.9" y1="302.8" x2="269.9" y2="302.8" stroke="#000" stroke-width="1.0" />
<text x="263.0" y="305.176" font-size="6.6" text-anchor="end" fill="#111" textLength="7.64" lengthAdjust="spacingAndGlyphs" >20</text>
<line x1="266.9" y1="317.2" x2="269.9" y2="317.2" stroke="#000" stroke-width="1.0" />
<text x="263.0" y="319.57599999999996" font-size="6.6" text-anchor="end" fill="#111" textLength="3.82" lengthAdjust="spacingAndGlyphs" >0</text>
<line x1="269.3" y1="317.4" x2="432.6" y2="317.4" stroke="#000" stroke-width="1.4" />
<text x="237.1" y="279.9" font-size="8.2" text-anchor="middle" fill="#111" font-weight="bold" textLength="36.2" lengthAdjust="spacingAndGlyphs" transform="rotate(-90 237.1 279.9)" >% IFN<tspan font-size="6" dy="1.2">γ</tspan><tspan dy="-1.2"> cells</tspan></text>
<line x1="283.2" y1="231.6" x2="339.6" y2="231.6" stroke="#1a1a1a" stroke-width="1.0" />
<line x1="283.2" y1="229.6" x2="283.2" y2="233.6" stroke="#1a1a1a" stroke-width="1.0" />
<line x1="339.6" y1="229.6" x2="339.6" y2="233.6" stroke="#1a1a1a" stroke-width="1.0" />
<text x="311.4" y="232.6" font-size="5.8" text-anchor="middle" fill="#000" font-weight="bold" >****</text>
<line x1="283.2" y1="236.6" x2="321.3" y2="236.6" stroke="#1a1a1a" stroke-width="1.0" />
<line x1="283.2" y1="234.6" x2="283.2" y2="238.6" stroke="#1a1a1a" stroke-width="1.0" />
<line x1="321.3" y1="234.6" x2="321.3" y2="238.6" stroke="#1a1a1a" stroke-width="1.0" />
<text x="302.25" y="237.6" font-size="5.8" text-anchor="middle" fill="#000" font-weight="bold" >*</text>
<line x1="283.2" y1="241.8" x2="302.8" y2="241.8" stroke="#1a1a1a" stroke-width="1.0" />
<line x1="283.2" y1="239.8" x2="283.2" y2="243.8" stroke="#1a1a1a" stroke-width="1.0" />
<line x1="302.8" y1="239.8" x2="302.8" y2="243.8" stroke="#1a1a1a" stroke-width="1.0" />
<text x="293.0" y="242.8" font-size="5.8" text-anchor="middle" fill="#000" font-weight="bold" >*</text>
<rect x="271.0" y="296.9" width="6.699999999999989" height="20.100000000000023" fill="#979cc8" stroke="#979cc8" stroke-width="0.4" />
<circle cx="274.35" cy="296.9" r="1.45" fill="#fff" stroke="#979cc8" stroke-width="0.7"/>
<circle cx="272.675" cy="302.93" r="1.45" fill="#fff" stroke="#979cc8" stroke-width="0.7"/>
<circle cx="275.69" cy="307.955" r="1.45" fill="#fff" stroke="#979cc8" stroke-width="0.7"/>
<circle cx="272.675" cy="308.96" r="1.45" fill="#fff" stroke="#979cc8" stroke-width="0.7"/>
<circle cx="274.35" cy="317.0" r="1.45" fill="#fff" stroke="#979cc8" stroke-width="0.7"/>
<rect x="280.8" y="246.6" width="6.5" height="20.400000000000006" fill="#274382" stroke="#274382" stroke-width="0.4" />
<circle cx="282.425" cy="246.6" r="1.45" fill="#fff" stroke="#274382" stroke-width="0.7"/>
<circle cx="285.675" cy="246.6" r="1.45" fill="#fff" stroke="#274382" stroke-width="0.7"/>
<circle cx="284.05" cy="254.76" r="1.45" fill="#fff" stroke="#274382" stroke-width="0.7"/>
<circle cx="284.05" cy="260.88" r="1.45" fill="#fff" stroke="#274382" stroke-width="0.7"/>
<circle cx="284.05" cy="267.0" r="1.45" fill="#fff" stroke="#274382" stroke-width="0.7"/>
<rect x="290.1" y="304.0" width="6.2999999999999545" height="12.0" fill="#979cc8" stroke="#979cc8" stroke-width="0.4" />
<circle cx="293.25" cy="304.0" r="1.45" fill="#fff" stroke="#979cc8" stroke-width="0.7"/>
<circle cx="291.99" cy="308.8" r="1.45" fill="#fff" stroke="#979cc8" stroke-width="0.7"/>
<circle cx="294.825" cy="310.0" r="1.45" fill="#fff" stroke="#979cc8" stroke-width="0.7"/>
<circle cx="293.25" cy="314.8" r="1.45" fill="#fff" stroke="#979cc8" stroke-width="0.7"/>
<rect x="300.0" y="266.2" width="6.399999999999977" height="23.0" fill="#274382" stroke="#274382" stroke-width="0.4" />
<circle cx="301.6" cy="268.5" r="1.45" fill="#fff" stroke="#274382" stroke-width="0.7"/>
<circle cx="304.79999999999995" cy="266.2" r="1.45" fill="#fff" stroke="#274382" stroke-width="0.7"/>
<circle cx="303.2" cy="273.09999999999997" r="1.45" fill="#fff" stroke="#274382" stroke-width="0.7"/>
<circle cx="304.15999999999997" cy="277.7" r="1.45" fill="#fff" stroke="#274382" stroke-width="0.7"/>
<circle cx="303.2" cy="289.2" r="1.45" fill="#fff" stroke="#274382" stroke-width="0.7"/>
<circle cx="309.8" cy="309.7" r="1.45" fill="#fff" stroke="#7f86c0" stroke-width="0.75"/>
<circle cx="312.8" cy="309.4" r="1.45" fill="#fff" stroke="#7f86c0" stroke-width="0.75"/>
<circle cx="315.8" cy="309.8" r="1.45" fill="#fff" stroke="#7f86c0" stroke-width="0.75"/>
<circle cx="311.5" cy="312.6" r="1.45" fill="#fff" stroke="#7f86c0" stroke-width="0.75"/>
<circle cx="314.40000000000003" cy="312.5" r="1.45" fill="#fff" stroke="#7f86c0" stroke-width="0.75"/>
<rect x="318.9" y="268.8" width="6.7000000000000455" height="20.399999999999977" fill="#274382" stroke="#274382" stroke-width="0.4" />
<circle cx="322.25" cy="268.8" r="1.45" fill="#fff" stroke="#274382" stroke-width="0.7"/>
<circle cx="322.25" cy="272.88" r="1.45" fill="#fff" stroke="#274382" stroke-width="0.7"/>
<circle cx="322.25" cy="277.98" r="1.45" fill="#fff" stroke="#274382" stroke-width="0.7"/>
<circle cx="322.25" cy="289.2" r="1.45" fill="#fff" stroke="#274382" stroke-width="0.7"/>
<circle cx="330.0" cy="308.6" r="1.45" fill="#fff" stroke="#7f86c0" stroke-width="0.75"/>
<circle cx="333.0" cy="308.0" r="1.45" fill="#fff" stroke="#7f86c0" stroke-width="0.75"/>
<circle cx="330.3" cy="311.40000000000003" r="1.45" fill="#fff" stroke="#7f86c0" stroke-width="0.75"/>
<circle cx="333.40000000000003" cy="311.8" r="1.45" fill="#fff" stroke="#7f86c0" stroke-width="0.75"/>
<circle cx="330.40000000000003" cy="313.6" r="1.45" fill="#fff" stroke="#7f86c0" stroke-width="0.75"/>
<rect x="338.0" y="272.9" width="6.899999999999977" height="29.900000000000034" fill="#274382" stroke="#274382" stroke-width="0.4" />
<circle cx="341.45" cy="272.9" r="1.45" fill="#fff" stroke="#274382" stroke-width="0.7"/>
<circle cx="343.17499999999995" cy="274.395" r="1.45" fill="#fff" stroke="#274382" stroke-width="0.7"/>
<circle cx="341.45" cy="289.345" r="1.45" fill="#fff" stroke="#274382" stroke-width="0.7"/>
<circle cx="341.45" cy="295.325" r="1.45" fill="#fff" stroke="#274382" stroke-width="0.7"/>
<circle cx="341.45" cy="302.8" r="1.45" fill="#fff" stroke="#274382" stroke-width="0.7"/>
<line x1="370.2" y1="244.9" x2="426.5" y2="244.9" stroke="#1a1a1a" stroke-width="1.0" />
<line x1="370.2" y1="242.9" x2="370.2" y2="246.9" stroke="#1a1a1a" stroke-width="1.0" />
<line x1="426.5" y1="242.9" x2="426.5" y2="246.9" stroke="#1a1a1a" stroke-width="1.0" />
<text x="398.35" y="245.9" font-size="5.8" text-anchor="middle" fill="#000" font-weight="bold" >**</text>
<line x1="370.2" y1="249.7" x2="407.8" y2="249.7" stroke="#1a1a1a" stroke-width="1.0" />
<line x1="370.2" y1="247.7" x2="370.2" y2="251.7" stroke="#1a1a1a" stroke-width="1.0" />
<line x1="407.8" y1="247.7" x2="407.8" y2="251.7" stroke="#1a1a1a" stroke-width="1.0" />
<text x="389.0" y="250.7" font-size="5.8" text-anchor="middle" fill="#000" font-weight="bold" >*</text>
<line x1="370.2" y1="255.7" x2="389.9" y2="255.7" stroke="#1a1a1a" stroke-width="1.0" />
<line x1="370.2" y1="253.7" x2="370.2" y2="257.7" stroke="#1a1a1a" stroke-width="1.0" />
<line x1="389.9" y1="253.7" x2="389.9" y2="257.7" stroke="#1a1a1a" stroke-width="1.0" />
<text x="380.04999999999995" y="256.7" font-size="5.8" text-anchor="middle" fill="#000" font-weight="bold" >*</text>
<rect x="357.0" y="307.6" width="6.5" height="9.399999999999977" fill="#d48a7a" stroke="#d48a7a" stroke-width="0.4" />
<circle cx="360.25" cy="307.6" r="1.45" fill="#fff" stroke="#d48a7a" stroke-width="0.7"/>
<circle cx="358.625" cy="311.36" r="1.45" fill="#fff" stroke="#d48a7a" stroke-width="0.7"/>
<circle cx="361.875" cy="311.36" r="1.45" fill="#fff" stroke="#d48a7a" stroke-width="0.7"/>
<circle cx="360.25" cy="315.12" r="1.45" fill="#fff" stroke="#d48a7a" stroke-width="0.7"/>
<rect x="367.1" y="260.4" width="6.699999999999989" height="32.400000000000034" fill="#a80a30" stroke="#a80a30" stroke-width="0.4" />
<circle cx="370.45000000000005" cy="260.4" r="1.45" fill="#fff" stroke="#a80a30" stroke-width="0.7"/>
<circle cx="370.45000000000005" cy="276.6" r="1.45" fill="#fff" stroke="#a80a30" stroke-width="0.7"/>
<circle cx="368.77500000000003" cy="289.56" r="1.45" fill="#fff" stroke="#a80a30" stroke-width="0.7"/>
<circle cx="372.12500000000006" cy="289.56" r="1.45" fill="#fff" stroke="#a80a30" stroke-width="0.7"/>
<circle cx="370.45000000000005" cy="292.8" r="1.45" fill="#fff" stroke="#a80a30" stroke-width="0.7"/>
<circle cx="377.7" cy="313.2" r="1.45" fill="#fff" stroke="#d88a7a" stroke-width="0.75"/>
<circle cx="381.3" cy="312.6" r="1.45" fill="#fff" stroke="#d88a7a" stroke-width="0.75"/>
<circle cx="380.0" cy="314.8" r="1.45" fill="#fff" stroke="#d88a7a" stroke-width="0.75"/>
<circle cx="381.9" cy="314.7" r="1.45" fill="#fff" stroke="#d88a7a" stroke-width="0.75"/>
<rect x="386.3" y="291.3" width="6.5" height="18.0" fill="#a80a30" stroke="#a80a30" stroke-width="0.4" />
<circle cx="389.55" cy="291.3" r="1.45" fill="#fff" stroke="#a80a30" stroke-width="0.7"/>
<circle cx="389.55" cy="298.5" r="1.45" fill="#fff" stroke="#a80a30" stroke-width="0.7"/>
<circle cx="389.55" cy="303.90000000000003" r="1.45" fill="#fff" stroke="#a80a30" stroke-width="0.7"/>
<circle cx="389.55" cy="309.3" r="1.45" fill="#fff" stroke="#a80a30" stroke-width="0.7"/>
<rect x="395.9" y="302.8" width="6.400000000000034" height="14.199999999999989" fill="#d48a7a" stroke="#d48a7a" stroke-width="0.4" />
<circle cx="399.1" cy="302.8" r="1.45" fill="#fff" stroke="#d48a7a" stroke-width="0.7"/>
<circle cx="399.1" cy="311.32" r="1.45" fill="#fff" stroke="#d48a7a" stroke-width="0.7"/>
<circle cx="399.1" cy="317.0" r="1.45" fill="#fff" stroke="#d48a7a" stroke-width="0.7"/>
<rect x="405.4" y="292.8" width="6.5" height="18.899999999999977" fill="#a80a30" stroke="#a80a30" stroke-width="0.4" />
<circle cx="408.65" cy="292.8" r="1.45" fill="#fff" stroke="#a80a30" stroke-width="0.7"/>
<circle cx="408.65" cy="299.415" r="1.45" fill="#fff" stroke="#a80a30" stroke-width="0.7"/>
<circle cx="408.65" cy="306.03" r="1.45" fill="#fff" stroke="#a80a30" stroke-width="0.7"/>
<circle cx="408.65" cy="311.7" r="1.45" fill="#fff" stroke="#a80a30" stroke-width="0.7"/>
<circle cx="415.8" cy="313.7" r="1.45" fill="#fff" stroke="#d88a7a" stroke-width="0.75"/>
<circle cx="419.40000000000003" cy="313.1" r="1.45" fill="#fff" stroke="#d88a7a" stroke-width="0.75"/>
<circle cx="418.1" cy="315.3" r="1.45" fill="#fff" stroke="#d88a7a" stroke-width="0.75"/>
<circle cx="420.0" cy="315.2" r="1.45" fill="#fff" stroke="#d88a7a" stroke-width="0.75"/>
<rect x="424.6" y="293.3" width="6.5" height="19.80000000000001" fill="#a80a30" stroke="#a80a30" stroke-width="0.4" />
<circle cx="427.85" cy="293.3" r="1.45" fill="#fff" stroke="#a80a30" stroke-width="0.7"/>
<circle cx="427.85" cy="303.20000000000005" r="1.45" fill="#fff" stroke="#a80a30" stroke-width="0.7"/>
<circle cx="426.225" cy="313.1" r="1.45" fill="#fff" stroke="#a80a30" stroke-width="0.7"/>
<circle cx="429.475" cy="313.1" r="1.45" fill="#fff" stroke="#a80a30" stroke-width="0.7"/>
<text x="278.9" y="327.4" font-size="7.0" text-anchor="middle" fill="#1a1a1a" >YM</text>
<text x="298.0" y="327.4" font-size="7.0" text-anchor="middle" fill="#1a1a1a" >RO</text>
<text x="317.2" y="327.4" font-size="7.0" text-anchor="middle" fill="#1a1a1a" >AA</text>
<text x="336.8" y="327.4" font-size="7.0" text-anchor="middle" fill="#1a1a1a" >Oligo</text>
<text x="365.4" y="327.4" font-size="7.0" text-anchor="middle" fill="#1a1a1a" >YM</text>
<text x="384.6" y="327.4" font-size="7.0" text-anchor="middle" fill="#1a1a1a" >RO</text>
<text x="403.8" y="327.4" font-size="7.0" text-anchor="middle" fill="#1a1a1a" >AA</text>
<text x="422.9" y="327.4" font-size="7.0" text-anchor="middle" fill="#1a1a1a" >Oligo</text>
<rect x="443.0" y="266.7" width="8.2" height="5.0" fill="#979cc8" stroke="none" stroke-width="1" />
<text x="454.6" y="271.324" font-size="5.9" text-anchor="start" fill="#000" textLength="29.3" lengthAdjust="spacingAndGlyphs" >NKBr+IL-15</text>
<rect x="443.0" y="273.59999999999997" width="8.2" height="5.0" fill="#274382" stroke="none" stroke-width="1" />
<text x="454.6" y="278.224" font-size="5.9" text-anchor="start" fill="#000" textLength="47.0" lengthAdjust="spacingAndGlyphs" >NKBr+IL-15-12-18</text>
<rect x="443.0" y="280.5" width="8.2" height="5.0" fill="#d48a7a" stroke="none" stroke-width="1" />
<text x="454.6" y="285.124" font-size="5.9" text-anchor="start" fill="#000" textLength="32.8" lengthAdjust="spacingAndGlyphs" >NKDim+IL-15</text>
<rect x="443.0" y="287.4" width="8.2" height="5.0" fill="#a80a30" stroke="none" stroke-width="1" />
<text x="454.6" y="292.024" font-size="5.9" text-anchor="start" fill="#000" textLength="51.0" lengthAdjust="spacingAndGlyphs" >NKDim+IL-15-12-18</text>
<line x1="60.2" y1="368.0" x2="60.2" y2="440.6" stroke="#000" stroke-width="1.35" />
<line x1="57.2" y1="370.6" x2="60.2" y2="370.6" stroke="#000" stroke-width="1.0" />
<text x="53.300000000000004" y="372.976" font-size="6.6" text-anchor="end" fill="#111" textLength="19.1" lengthAdjust="spacingAndGlyphs" >10000</text>
<line x1="57.2" y1="384.9" x2="60.2" y2="384.9" stroke="#000" stroke-width="1.0" />
<text x="53.300000000000004" y="387.27599999999995" font-size="6.6" text-anchor="end" fill="#111" textLength="15.28" lengthAdjust="spacingAndGlyphs" >8000</text>
<line x1="57.2" y1="398.9" x2="60.2" y2="398.9" stroke="#000" stroke-width="1.0" />
<text x="53.300000000000004" y="401.27599999999995" font-size="6.6" text-anchor="end" fill="#111" textLength="15.28" lengthAdjust="spacingAndGlyphs" >6000</text>
<line x1="57.2" y1="412.6" x2="60.2" y2="412.6" stroke="#000" stroke-width="1.0" />
<text x="53.300000000000004" y="414.976" font-size="6.6" text-anchor="end" fill="#111" textLength="15.28" lengthAdjust="spacingAndGlyphs" >4000</text>
<line x1="57.2" y1="426.4" x2="60.2" y2="426.4" stroke="#000" stroke-width="1.0" />
<text x="53.300000000000004" y="428.77599999999995" font-size="6.6" text-anchor="end" fill="#111" textLength="15.28" lengthAdjust="spacingAndGlyphs" >2000</text>
<line x1="57.2" y1="440.4" x2="60.2" y2="440.4" stroke="#000" stroke-width="1.0" />
<text x="53.300000000000004" y="442.77599999999995" font-size="6.6" text-anchor="end" fill="#111" textLength="3.82" lengthAdjust="spacingAndGlyphs" >0</text>
<line x1="59.6" y1="440.7" x2="167.4" y2="440.7" stroke="#000" stroke-width="1.4" />
<text x="27.6" y="404.0" font-size="8.2" text-anchor="middle" fill="#111" font-weight="bold" textLength="26.3" lengthAdjust="spacingAndGlyphs" transform="rotate(-90 27.6 404.0)" >IFN<tspan font-size="6" dy="1.2">γ</tspan><tspan dy="-1.2"> MFI</tspan></text>
<rect x="63.6" y="425.6" width="7.699999999999996" height="9.899999999999977" fill="#979cc8" stroke="#979cc8" stroke-width="0.4" />
<circle cx="67.45" cy="425.6" r="1.45" fill="#fff" stroke="#979cc8" stroke-width="0.7"/>
<circle cx="65.14" cy="430.55" r="1.45" fill="#fff" stroke="#979cc8" stroke-width="0.7"/>
<circle cx="69.76" cy="430.55" r="1.45" fill="#fff" stroke="#979cc8" stroke-width="0.7"/>
<circle cx="65.14" cy="435.5" r="1.45" fill="#fff" stroke="#979cc8" stroke-width="0.7"/>
<circle cx="68.605" cy="435.5" r="1.45" fill="#fff" stroke="#979cc8" stroke-width="0.7"/>
<rect x="76.0" y="397.6" width="7.5" height="33.19999999999999" fill="#274382" stroke="#274382" stroke-width="0.4" />
<circle cx="79.75" cy="397.6" r="1.45" fill="#fff" stroke="#274382" stroke-width="0.7"/>
<circle cx="77.5" cy="409.22" r="1.45" fill="#fff" stroke="#274382" stroke-width="0.7"/>
<circle cx="82.0" cy="405.90000000000003" r="1.45" fill="#fff" stroke="#274382" stroke-width="0.7"/>
<circle cx="79.75" cy="417.52000000000004" r="1.45" fill="#fff" stroke="#274382" stroke-width="0.7"/>
<circle cx="79.75" cy="430.8" r="1.45" fill="#fff" stroke="#274382" stroke-width="0.7"/>
<rect x="88.2" y="428.2" width="7.299999999999997" height="9.800000000000011" fill="#979cc8" stroke="#979cc8" stroke-width="0.4" />
<circle cx="91.85" cy="428.2" r="1.45" fill="#fff" stroke="#979cc8" stroke-width="0.7"/>
<circle cx="90.02499999999999" cy="432.12" r="1.45" fill="#fff" stroke="#979cc8" stroke-width="0.7"/>
<circle cx="93.675" cy="432.12" r="1.45" fill="#fff" stroke="#979cc8" stroke-width="0.7"/>
<circle cx="90.755" cy="437.02" r="1.45" fill="#fff" stroke="#979cc8" stroke-width="0.7"/>
<circle cx="92.945" cy="437.02" r="1.45" fill="#fff" stroke="#979cc8" stroke-width="0.7"/>
<rect x="99.9" y="379.4" width="7.0" height="47.0" fill="#274382" stroke="#274382" stroke-width="0.4" />
<circle cx="103.4" cy="379.4" r="1.45" fill="#fff" stroke="#274382" stroke-width="0.7"/>
<circle cx="103.4" cy="399.14" r="1.45" fill="#fff" stroke="#274382" stroke-width="0.7"/>
<circle cx="103.4" cy="403.84" r="1.45" fill="#fff" stroke="#274382" stroke-width="0.7"/>
<circle cx="103.4" cy="409.95" r="1.45" fill="#fff" stroke="#274382" stroke-width="0.7"/>
<circle cx="103.4" cy="426.4" r="1.45" fill="#fff" stroke="#274382" stroke-width="0.7"/>
<text x="79.9" y="397.4" font-size="5.8" text-anchor="middle" fill="#000" font-weight="bold" >**</text>
<text x="103.4" y="378.2" font-size="5.8" text-anchor="middle" fill="#000" font-weight="bold" >****</text>
<line x1="79.3" y1="369.8" x2="103.5" y2="369.8" stroke="#1a1a1a" stroke-width="1.0" />
<line x1="79.3" y1="367.8" x2="79.3" y2="371.8" stroke="#1a1a1a" stroke-width="1.0" />
<line x1="103.5" y1="367.8" x2="103.5" y2="371.8" stroke="#1a1a1a" stroke-width="1.0" />
<text x="91.4" y="368.0" font-size="6.3" text-anchor="middle" fill="#111" >ns</text>
<circle cx="125.8" cy="436.3" r="1.45" fill="#fff" stroke="#d88a7a" stroke-width="0.75"/>
<circle cx="129.4" cy="435.70000000000005" r="1.45" fill="#fff" stroke="#d88a7a" stroke-width="0.75"/>
<circle cx="128.1" cy="437.90000000000003" r="1.45" fill="#fff" stroke="#d88a7a" stroke-width="0.75"/>
<circle cx="130.0" cy="437.8" r="1.45" fill="#fff" stroke="#d88a7a" stroke-width="0.75"/>
<rect x="135.6" y="425.2" width="7.599999999999994" height="10.800000000000011" fill="#a80a30" stroke="#a80a30" stroke-width="0.4" />
<circle cx="139.39999999999998" cy="425.2" r="1.45" fill="#fff" stroke="#a80a30" stroke-width="0.7"/>
<circle cx="137.49999999999997" cy="428.98" r="1.45" fill="#fff" stroke="#a80a30" stroke-width="0.7"/>
<circle cx="141.29999999999998" cy="428.98" r="1.45" fill="#fff" stroke="#a80a30" stroke-width="0.7"/>
<circle cx="137.49999999999997" cy="436.0" r="1.45" fill="#fff" stroke="#a80a30" stroke-width="0.7"/>
<circle cx="141.29999999999998" cy="436.0" r="1.45" fill="#fff" stroke="#a80a30" stroke-width="0.7"/>
<circle cx="149.6" cy="435.2" r="1.45" fill="#fff" stroke="#d88a7a" stroke-width="0.75"/>
<circle cx="153.2" cy="434.6" r="1.45" fill="#fff" stroke="#d88a7a" stroke-width="0.75"/>
<circle cx="151.9" cy="436.8" r="1.45" fill="#fff" stroke="#d88a7a" stroke-width="0.75"/>
<circle cx="153.79999999999998" cy="436.7" r="1.45" fill="#fff" stroke="#d88a7a" stroke-width="0.75"/>
<rect x="159.8" y="396.7" width="7.099999999999994" height="22.69999999999999" fill="#a80a30" stroke="#a80a30" stroke-width="0.4" />
<circle cx="163.35000000000002" cy="396.7" r="1.45" fill="#fff" stroke="#a80a30" stroke-width="0.7"/>
<circle cx="163.35000000000002" cy="403.51" r="1.45" fill="#fff" stroke="#a80a30" stroke-width="0.7"/>
<circle cx="161.57500000000002" cy="419.4" r="1.45" fill="#fff" stroke="#a80a30" stroke-width="0.7"/>
<circle cx="165.12500000000003" cy="419.4" r="1.45" fill="#fff" stroke="#a80a30" stroke-width="0.7"/>
<text x="139.4" y="420.8" font-size="6.6" text-anchor="middle" fill="#111" >ns</text>
<line x1="139.6" y1="388.1" x2="162.7" y2="388.1" stroke="#1a1a1a" stroke-width="1.0" />
<line x1="139.6" y1="386.1" x2="139.6" y2="390.1" stroke="#1a1a1a" stroke-width="1.0" />
<line x1="162.7" y1="386.1" x2="162.7" y2="390.1" stroke="#1a1a1a" stroke-width="1.0" />
<text x="151.14999999999998" y="389.1" font-size="5.8" text-anchor="middle" fill="#000" font-weight="bold" >*</text>
<text x="163.2" y="395.9" font-size="5.8" text-anchor="middle" fill="#000" font-weight="bold" >**</text>
<text x="43.2" y="450.0" font-size="6.6" text-anchor="middle" fill="#1a1a1a" textLength="20.5" lengthAdjust="spacingAndGlyphs" >TMRM</text>
<text x="68.0" y="450.0" font-size="6.6" text-anchor="middle" fill="#333" >-</text>
<text x="79.6" y="450.0" font-size="6.6" text-anchor="middle" fill="#333" >-</text>
<text x="91.3" y="450.6" font-size="7.6" text-anchor="middle" fill="#111" >+</text>
<text x="103.2" y="450.6" font-size="7.6" text-anchor="middle" fill="#111" >+</text>
<text x="127.4" y="450.0" font-size="6.6" text-anchor="middle" fill="#333" >-</text>
<text x="139.3" y="450.0" font-size="6.6" text-anchor="middle" fill="#333" >-</text>
<text x="151.2" y="450.6" font-size="7.6" text-anchor="middle" fill="#111" >+</text>
<text x="163.0" y="450.6" font-size="7.6" text-anchor="middle" fill="#111" >+</text>
<line x1="215.9" y1="365.6" x2="215.9" y2="440.6" stroke="#000" stroke-width="1.35" />
<line x1="212.9" y1="368.3" x2="215.9" y2="368.3" stroke="#000" stroke-width="1.0" />
<text x="209.0" y="370.676" font-size="6.6" text-anchor="end" fill="#111" textLength="11.46" lengthAdjust="spacingAndGlyphs" >100</text>
<line x1="212.9" y1="404.3" x2="215.9" y2="404.3" stroke="#000" stroke-width="1.0" />
<text x="209.0" y="406.676" font-size="6.6" text-anchor="end" fill="#111" textLength="7.64" lengthAdjust="spacingAndGlyphs" >50</text>
<line x1="212.9" y1="440.4" x2="215.9" y2="440.4" stroke="#000" stroke-width="1.0" />
<text x="209.0" y="442.77599999999995" font-size="6.6" text-anchor="end" fill="#111" textLength="3.82" lengthAdjust="spacingAndGlyphs" >0</text>
<line x1="215.3" y1="440.7" x2="332.4" y2="440.7" stroke="#000" stroke-width="1.4" />
<text x="192.4" y="403.4" font-size="8.2" text-anchor="middle" fill="#111" font-weight="bold" textLength="37.0" lengthAdjust="spacingAndGlyphs" transform="rotate(-90 192.4 403.4)" >% IFN<tspan font-size="6" dy="1.2">γ</tspan><tspan dy="-1.2"> cells</tspan></text>
<rect x="220.6" y="428.6" width="8.599999999999994" height="10.399999999999977" fill="#979cc8" stroke="#979cc8" stroke-width="0.4" />
<circle cx="226.18999999999997" cy="428.6" r="1.45" fill="#fff" stroke="#979cc8" stroke-width="0.7"/>
<circle cx="222.74999999999997" cy="431.72" r="1.45" fill="#fff" stroke="#979cc8" stroke-width="0.7"/>
<circle cx="227.04999999999998" cy="434.84000000000003" r="1.45" fill="#fff" stroke="#979cc8" stroke-width="0.7"/>
<circle cx="223.60999999999999" cy="439.0" r="1.45" fill="#fff" stroke="#979cc8" stroke-width="0.7"/>
<rect x="233.2" y="369.8" width="7.700000000000017" height="13.300000000000011" fill="#274382" stroke="#274382" stroke-width="0.4" />
<circle cx="237.05" cy="369.8" r="1.45" fill="#fff" stroke="#274382" stroke-width="0.7"/>
<circle cx="235.125" cy="376.45000000000005" r="1.45" fill="#fff" stroke="#274382" stroke-width="0.7"/>
<circle cx="238.97500000000002" cy="376.45000000000005" r="1.45" fill="#fff" stroke="#274382" stroke-width="0.7"/>
<circle cx="237.05" cy="383.1" r="1.45" fill="#fff" stroke="#274382" stroke-width="0.7"/>
<rect x="245.2" y="428.6" width="8.0" height="10.399999999999977" fill="#979cc8" stroke="#979cc8" stroke-width="0.4" />
<circle cx="250.79999999999998" cy="428.6" r="1.45" fill="#fff" stroke="#979cc8" stroke-width="0.7"/>
<circle cx="247.2" cy="431.20000000000005" r="1.45" fill="#fff" stroke="#979cc8" stroke-width="0.7"/>
<circle cx="249.2" cy="439.0" r="1.45" fill="#fff" stroke="#979cc8" stroke-width="0.7"/>
<rect x="257.5" y="373.2" width="8.0" height="8.300000000000011" fill="#274382" stroke="#274382" stroke-width="0.4" />
<circle cx="263.5" cy="373.2" r="1.45" fill="#fff" stroke="#274382" stroke-width="0.7"/>
<circle cx="259.5" cy="375.69" r="1.45" fill="#fff" stroke="#274382" stroke-width="0.7"/>
<circle cx="263.5" cy="378.18" r="1.45" fill="#fff" stroke="#274382" stroke-width="0.7"/>
<circle cx="261.5" cy="381.5" r="1.45" fill="#fff" stroke="#274382" stroke-width="0.7"/>
<text x="237.0" y="368.7" font-size="5.8" text-anchor="middle" fill="#000" font-weight="bold" >****</text>
<text x="262.0" y="371.1" font-size="5.8" text-anchor="middle" fill="#000" font-weight="bold" >****</text>
<line x1="237.3" y1="360.8" x2="262.5" y2="360.8" stroke="#1a1a1a" stroke-width="1.0" />
<line x1="237.3" y1="358.8" x2="237.3" y2="362.8" stroke="#1a1a1a" stroke-width="1.0" />
<line x1="262.5" y1="358.8" x2="262.5" y2="362.8" stroke="#1a1a1a" stroke-width="1.0" />
<text x="249.9" y="359.0" font-size="6.3" text-anchor="middle" fill="#111" >ns</text>
<circle cx="284.6" cy="439.7" r="1.45" fill="#fff" stroke="#d88a7a" stroke-width="0.75"/>
<circle cx="288.20000000000005" cy="439.1" r="1.45" fill="#fff" stroke="#d88a7a" stroke-width="0.75"/>
<circle cx="286.90000000000003" cy="441.3" r="1.45" fill="#fff" stroke="#d88a7a" stroke-width="0.75"/>
<circle cx="288.8" cy="441.2" r="1.45" fill="#fff" stroke="#d88a7a" stroke-width="0.75"/>
<rect x="294.8" y="407.0" width="8.199999999999989" height="23.80000000000001" fill="#a80a30" stroke="#a80a30" stroke-width="0.4" />
<circle cx="300.95" cy="407.0" r="1.45" fill="#fff" stroke="#a80a30" stroke-width="0.7"/>
<circle cx="298.9" cy="414.14" r="1.45" fill="#fff" stroke="#a80a30" stroke-width="0.7"/>
<circle cx="298.9" cy="430.8" r="1.45" fill="#fff" stroke="#a80a30" stroke-width="0.7"/>
<circle cx="309.5" cy="439.7" r="1.45" fill="#fff" stroke="#d88a7a" stroke-width="0.75"/>
<circle cx="313.1" cy="439.1" r="1.45" fill="#fff" stroke="#d88a7a" stroke-width="0.75"/>
<circle cx="311.8" cy="441.3" r="1.45" fill="#fff" stroke="#d88a7a" stroke-width="0.75"/>
<circle cx="313.7" cy="441.2" r="1.45" fill="#fff" stroke="#d88a7a" stroke-width="0.75"/>
<rect x="320.0" y="382.5" width="8.300000000000011" height="22.69999999999999" fill="#a80a30" stroke="#a80a30" stroke-width="0.4" />
<circle cx="324.15" cy="382.5" r="1.45" fill="#fff" stroke="#a80a30" stroke-width="0.7"/>
<circle cx="324.15" cy="391.58" r="1.45" fill="#fff" stroke="#a80a30" stroke-width="0.7"/>
<circle cx="324.15" cy="396.12" r="1.45" fill="#fff" stroke="#a80a30" stroke-width="0.7"/>
<circle cx="322.075" cy="405.2" r="1.45" fill="#fff" stroke="#a80a30" stroke-width="0.7"/>
<circle cx="326.22499999999997" cy="405.2" r="1.45" fill="#fff" stroke="#a80a30" stroke-width="0.7"/>
<text x="299.1" y="405.3" font-size="5.8" text-anchor="middle" fill="#000" font-weight="bold" >***</text>
<text x="324.0" y="380.4" font-size="5.8" text-anchor="middle" fill="#000" font-weight="bold" >****</text>
<line x1="300.3" y1="370.6" x2="324.3" y2="370.6" stroke="#1a1a1a" stroke-width="1.0" />
<line x1="300.3" y1="368.6" x2="300.3" y2="372.6" stroke="#1a1a1a" stroke-width="1.0" />
<line x1="324.3" y1="368.6" x2="324.3" y2="372.6" stroke="#1a1a1a" stroke-width="1.0" />
<text x="312.3" y="371.6" font-size="5.8" text-anchor="middle" fill="#000" font-weight="bold" >***</text>
<text x="199.9" y="450.0" font-size="6.6" text-anchor="middle" fill="#1a1a1a" textLength="20.5" lengthAdjust="spacingAndGlyphs" >TMRM</text>
<text x="224.8" y="450.0" font-size="6.6" text-anchor="middle" fill="#333" >-</text>
<text x="237.0" y="450.0" font-size="6.6" text-anchor="middle" fill="#333" >-</text>
<text x="249.2" y="450.6" font-size="7.6" text-anchor="middle" fill="#111" >+</text>
<text x="261.5" y="450.6" font-size="7.6" text-anchor="middle" fill="#111" >+</text>
<text x="286.2" y="450.0" font-size="6.6" text-anchor="middle" fill="#333" >-</text>
<text x="298.5" y="450.0" font-size="6.6" text-anchor="middle" fill="#333" >-</text>
<text x="311.7" y="450.6" font-size="7.6" text-anchor="middle" fill="#111" >+</text>
<text x="323.7" y="450.6" font-size="7.6" text-anchor="middle" fill="#111" >+</text>
<rect x="342.1" y="389.8" width="9.0" height="5.4" fill="#979cc8" stroke="none" stroke-width="1" />
<text x="353.9" y="394.624" font-size="5.9" text-anchor="start" fill="#000" textLength="29.3" lengthAdjust="spacingAndGlyphs" >NKBr+IL-15</text>
<rect x="342.1" y="396.6" width="9.0" height="5.4" fill="#274382" stroke="none" stroke-width="1" />
<text x="353.9" y="401.42400000000004" font-size="5.9" text-anchor="start" fill="#000" textLength="47.0" lengthAdjust="spacingAndGlyphs" >NKBr+IL-15-12-18</text>
<rect x="342.1" y="403.40000000000003" width="9.0" height="5.4" fill="#d48a7a" stroke="none" stroke-width="1" />
<text x="353.9" y="408.22400000000005" font-size="5.9" text-anchor="start" fill="#000" textLength="32.8" lengthAdjust="spacingAndGlyphs" >NKDim+IL-15</text>
<rect x="342.1" y="410.2" width="9.0" height="5.4" fill="#a80a30" stroke="none" stroke-width="1" />
<text x="353.9" y="415.024" font-size="5.9" text-anchor="start" fill="#000" textLength="51.0" lengthAdjust="spacingAndGlyphs" >NKDim+IL-15-12-18</text>
<line x1="0" y1="0.5" x2="520" y2="0.5" stroke="#000" stroke-width="1.0" />
<line x1="0.5" y1="0" x2="0.5" y2="459" stroke="#000" stroke-width="1.0" />
<line x1="519.2" y1="0" x2="519.2" y2="459" stroke="#000" stroke-width="1.6" />
<line x1="0" y1="458.2" x2="520" y2="458.2" stroke="#000" stroke-width="1.6" />
</svg></body></html>
